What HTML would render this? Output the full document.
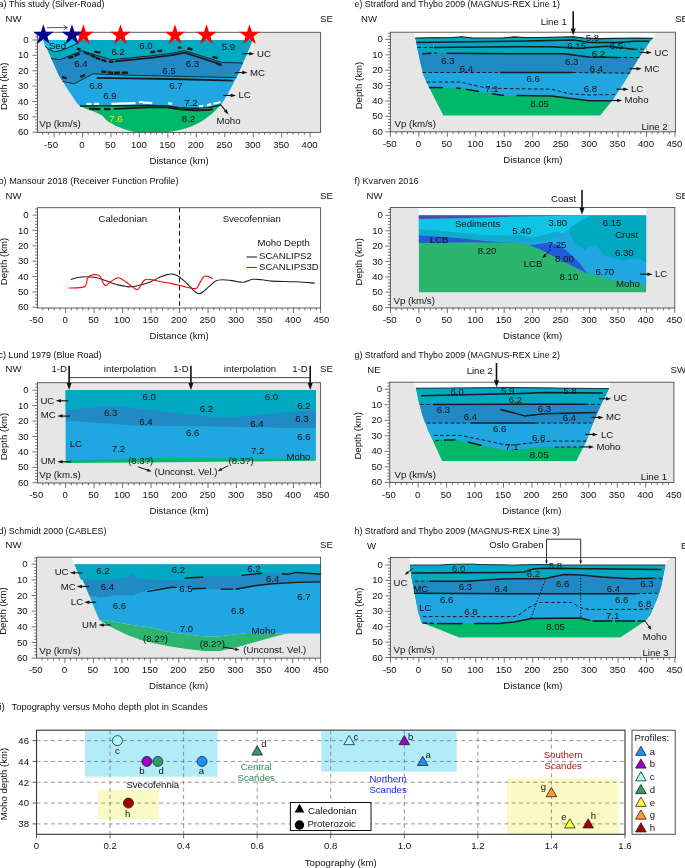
<!DOCTYPE html>
<html lang="en"><head><meta charset="utf-8"><title>Crustal velocity models across the Scandes</title>
<style>
html,body{margin:0;padding:0;background:#fff;}
body{width:685px;height:868px;overflow:hidden;}
svg{display:block;font-family:"Liberation Sans","DejaVu Sans",sans-serif;will-change:transform;}
</style></head><body>
<svg width="685" height="868" viewBox="0 0 685 868">
<rect width="685" height="868" fill="#fff"/>
<rect x="37.5" y="32.3" width="283.1" height="100.1" fill="#e6e6e6"/>
<text x="-1.5" y="7.2" font-size="9.8" fill="#111" textLength="106" lengthAdjust="spacingAndGlyphs">a) This study (Silver-Road)</text>
<text x="13.6" y="22.4" font-size="9.6" text-anchor="middle" fill="#111" >NW</text>
<text x="326.5" y="22.4" font-size="9.6" text-anchor="middle" fill="#111" >SE</text>
<polygon points="40,32.3 251,32.3 252.5,40 43.2,40" fill="#fff" />
<polygon points="43.2,40 47.7,50.2 52.8,61.5 59,75.4 62.8,81.4 65.8,86.5 71.6,95.2 76.6,102.7 79.9,106 100,105.8 150,105.5 167.5,105.8 179.2,107.7 193.8,108.4 208.4,107.7 220.7,105 225.7,97.5 232,86.2 237.5,75 242,65 247,53.7 252.5,40" fill="#20a6e0" />
<polygon points="79.9,106 86.7,109 95.5,112.3 101.8,115.3 108,121.6 115.6,125.8 125.6,129.8 135.7,132.2 166,132.2 172,131.6 182,129.6 192,126.2 202,121.2 212,113.7 220.7,105 208.4,107.7 193.8,108.4 179.2,107.7 167.5,105.8 150,105.5 100,105.8 79.9,106" fill="#00b86a" />
<polygon points="43.2,40 252.5,40 247,53.7 242,65 237.5,75 236.3,77.6 234.5,77.6 172,76.2 130,75.2 93,73.8 74.1,83.9 62.8,81.4 62.8,81.4 59,75.4 52.8,61.5 47.7,50.2 43.2,40" fill="#00a8c2" />
<polygon points="51.2,58.6 60.3,59.6 81.9,50.8 110.8,59.7 150.7,55.9 172,53.2 184.5,50.6 222,62.5 243,63 243,63 242,65 237.5,75 236.3,77.6 234.5,77.6 172,76.2 130,75.2 93,73.8 74.1,83.9 62.8,81.4 59,75.4 52.8,61.5" fill="#2189c4" />
<polygon points="43.2,40 45.1,46.4 50,50 54.5,51.8 60,50.8 66.7,48.4 74.9,44.6 78.4,42.3 80.5,40" fill="#10c4e6" />
<polyline points="45.1,46.4 50,50 54.5,51.8 60,50.8 66.7,48.4 74.9,44.6 78.4,42.3 80.5,40" fill="none" stroke="#1a1a1a" stroke-width="0.9" />
<polyline points="51.2,58.6 60.3,59.6 81.9,50.8 110.8,59.7 150.7,55.9 172,53.2 184.5,50.6 222,62.5 243,63" fill="none" stroke="#1a1a1a" stroke-width="0.9" />
<polyline points="62.8,81.4 74.1,83.9 93,73.8 130,75.2 172,76.2 234.5,77.6 236.3,77.6" fill="none" stroke="#1a1a1a" stroke-width="0.9" />
<polyline points="115,61.4 150.7,57.9 172,55.2 184.5,52.6 220.5,64.2" fill="none" stroke="#1a1a1a" stroke-width="1.7" />
<polyline points="96.7,77.9 130,78.4 172,79 233,80.6" fill="none" stroke="#1a1a1a" stroke-width="1.8" />
<polyline points="76.97,48.56 80.63,49.54" fill="none" stroke="#1a1a1a" stroke-width="2.4" />
<polyline points="94.46,51.61 100.44,52.59" fill="none" stroke="#1a1a1a" stroke-width="2.4" />
<polyline points="68.26,57.91 73.64,56.79" fill="none" stroke="#1a1a1a" stroke-width="2.4" />
<polyline points="74.39,55.91 79.81,53.69" fill="none" stroke="#1a1a1a" stroke-width="2.4" />
<polyline points="83.98,52.33 89.42,54.07" fill="none" stroke="#1a1a1a" stroke-width="2.4" />
<polyline points="90.19,55 95.51,57.1" fill="none" stroke="#1a1a1a" stroke-width="2.4" />
<polyline points="95.89,57.6 100.41,59.4" fill="none" stroke="#1a1a1a" stroke-width="2.4" />
<polyline points="101.48,59.51 106.42,61.29" fill="none" stroke="#1a1a1a" stroke-width="2.4" />
<polyline points="109.05,61.8 113.45,61.8" fill="none" stroke="#1a1a1a" stroke-width="2.4" />
<polyline points="150.55,52.26 155.15,51.74" fill="none" stroke="#1a1a1a" stroke-width="2.4" />
<polyline points="157.25,51.14 162.15,50.76" fill="none" stroke="#1a1a1a" stroke-width="2.4" />
<polyline points="177.75,47.6 181.45,47.6" fill="none" stroke="#1a1a1a" stroke-width="2.4" />
<polyline points="187.47,48.25 192.53,49.65" fill="none" stroke="#1a1a1a" stroke-width="2.4" />
<polyline points="212.47,56.87 217.53,58.13" fill="none" stroke="#1a1a1a" stroke-width="2.4" />
<polyline points="216.48,63.42 221.52,65.18" fill="none" stroke="#1a1a1a" stroke-width="2.4" />
<polyline points="101.45,71.46 106.45,71.84" fill="none" stroke="#1a1a1a" stroke-width="2.4" />
<polyline points="107.65,72.36 113.15,72.74" fill="none" stroke="#1a1a1a" stroke-width="2.4" />
<polyline points="114.15,72.7 120.15,72.7" fill="none" stroke="#1a1a1a" stroke-width="2.4" />
<polyline points="121.65,72.7 127.95,72.7" fill="none" stroke="#1a1a1a" stroke-width="2.4" />
<polyline points="62.08,76.92 66.62,78.48" fill="none" stroke="#1a1a1a" stroke-width="2.4" />
<polyline points="80.2,77.04 85,74.76" fill="none" stroke="#1a1a1a" stroke-width="2.4" />
<polyline points="79.9,106 100,105.8 150,105.5 167.5,105.8 179.2,107.7 193.8,108.4 208.4,107.7 220.7,105" fill="none" stroke="#1a1a1a" stroke-width="1.3" />
<polyline points="114,108.9 150,107.4 167.5,107.4 179.2,109.3 193.8,110.3 208.4,110 212.8,109.3" fill="none" stroke="#1a1a1a" stroke-width="1.9" />
<polyline points="89,108.6 100.5,109.1" fill="none" stroke="#1a1a1a" stroke-width="2.3" />
<polyline points="104,109.1 110.5,109.1" fill="none" stroke="#1a1a1a" stroke-width="2.3" />
<polyline points="86.5,103.9 91.5,103.9" fill="none" stroke="#fff" stroke-width="2.2" />
<polyline points="94,103.9 99,103.9" fill="none" stroke="#fff" stroke-width="2.2" />
<polyline points="111.5,103.9 135.5,103.2" fill="none" stroke="#fff" stroke-width="2.2" />
<polyline points="139,102.2 143,102" fill="none" stroke="#fff" stroke-width="2.2" />
<polyline points="143,102.6 150.5,102.8" fill="none" stroke="#fff" stroke-width="2.2" />
<polyline points="149,103 152.2,103.2" fill="none" stroke="#fff" stroke-width="2.2" />
<polyline points="168.2,103.2 171.9,104" fill="none" stroke="#fff" stroke-width="2.2" />
<polyline points="198.9,106.2 203.3,106.2" fill="none" stroke="#fff" stroke-width="2.2" />
<polyline points="206.9,105.1 211.3,104.3" fill="none" stroke="#fff" stroke-width="2.2" />
<polyline points="213.5,103.7 220.6,102" fill="none" stroke="#fff" stroke-width="2.2" />
<rect x="37.5" y="32.3" width="283.1" height="100.1" fill="none" stroke="#4d4d4d" stroke-width="0.9"/>
<path d="M42.67 132.4v2.4M48.36 132.4v2.4M54.05 132.4v5.0M59.74 132.4v2.4M65.43 132.4v2.4M71.12 132.4v2.4M76.81 132.4v2.4M82.5 132.4v5.0M88.19 132.4v2.4M93.88 132.4v2.4M99.57 132.4v2.4M105.26 132.4v2.4M110.95 132.4v5.0M116.64 132.4v2.4M122.33 132.4v2.4M128.02 132.4v2.4M133.71 132.4v2.4M139.4 132.4v5.0M145.09 132.4v2.4M150.78 132.4v2.4M156.47 132.4v2.4M162.16 132.4v2.4M167.85 132.4v5.0M173.54 132.4v2.4M179.23 132.4v2.4M184.92 132.4v2.4M190.61 132.4v2.4M196.3 132.4v5.0M201.99 132.4v2.4M207.68 132.4v2.4M213.37 132.4v2.4M219.06 132.4v2.4M224.75 132.4v5.0M230.44 132.4v2.4M236.13 132.4v2.4M241.82 132.4v2.4M247.51 132.4v2.4M253.2 132.4v5.0M258.89 132.4v2.4M264.58 132.4v2.4M270.27 132.4v2.4M275.96 132.4v2.4M281.65 132.4v5.0M287.34 132.4v2.4M293.03 132.4v2.4M298.72 132.4v2.4M304.41 132.4v2.4M310.1 132.4v5.0M37.5 33.85h-2.4M37.5 36.93h-2.4M37.5 40h-5.0M37.5 43.07h-2.4M37.5 46.15h-2.4M37.5 49.22h-2.4M37.5 52.3h-2.4M37.5 55.37h-5.0M37.5 58.44h-2.4M37.5 61.52h-2.4M37.5 64.59h-2.4M37.5 67.67h-2.4M37.5 70.74h-5.0M37.5 73.81h-2.4M37.5 76.89h-2.4M37.5 79.96h-2.4M37.5 83.04h-2.4M37.5 86.11h-5.0M37.5 89.18h-2.4M37.5 92.26h-2.4M37.5 95.33h-2.4M37.5 98.41h-2.4M37.5 101.48h-5.0M37.5 104.55h-2.4M37.5 107.63h-2.4M37.5 110.7h-2.4M37.5 113.78h-2.4M37.5 116.85h-5.0M37.5 119.92h-2.4M37.5 123h-2.4M37.5 126.07h-2.4M37.5 129.15h-2.4M37.5 132.22h-5.0" stroke="#4d4d4d" stroke-width="0.8" fill="none"/>
<text x="51.05" y="147.6" font-size="9.6" text-anchor="middle" fill="#111" >-50</text>
<text x="82" y="147.6" font-size="9.6" text-anchor="middle" fill="#111" >0</text>
<text x="110.45" y="147.6" font-size="9.6" text-anchor="middle" fill="#111" >50</text>
<text x="138.9" y="147.6" font-size="9.6" text-anchor="middle" fill="#111" >100</text>
<text x="167.35" y="147.6" font-size="9.6" text-anchor="middle" fill="#111" >150</text>
<text x="195.8" y="147.6" font-size="9.6" text-anchor="middle" fill="#111" >200</text>
<text x="224.25" y="147.6" font-size="9.6" text-anchor="middle" fill="#111" >250</text>
<text x="252.7" y="147.6" font-size="9.6" text-anchor="middle" fill="#111" >300</text>
<text x="281.15" y="147.6" font-size="9.6" text-anchor="middle" fill="#111" >350</text>
<text x="309.6" y="147.6" font-size="9.6" text-anchor="middle" fill="#111" >400</text>
<text x="28.6" y="43" font-size="9.6" text-anchor="end" fill="#111" >0</text>
<text x="28.6" y="58" font-size="9.6" text-anchor="end" fill="#111" >10</text>
<text x="28.6" y="74" font-size="9.6" text-anchor="end" fill="#111" >20</text>
<text x="28.6" y="89" font-size="9.6" text-anchor="end" fill="#111" >30</text>
<text x="28.6" y="105" font-size="9.6" text-anchor="end" fill="#111" >40</text>
<text x="28.6" y="120" font-size="9.6" text-anchor="end" fill="#111" >50</text>
<text x="28.6" y="135" font-size="9.6" text-anchor="end" fill="#111" >60</text>
<text x="179.05" y="163.7" font-size="9.6" text-anchor="middle" fill="#111" >Distance (km)</text>
<text transform="translate(7.3 86.2) rotate(-90)" font-size="9.6" text-anchor="middle" fill="#111">Depth (km)</text>
<text x="39.3" y="126.9" font-size="9.7" text-anchor="start" fill="#111" >Vp (km/s)</text>
<text x="57.5" y="49" font-size="9.6" text-anchor="middle" fill="#111" >Sed</text>
<text x="118.2" y="55" font-size="9.6" text-anchor="middle" fill="#111" >6.2</text>
<text x="146" y="49" font-size="9.6" text-anchor="middle" fill="#111" >6.0</text>
<text x="228.5" y="50" font-size="9.6" text-anchor="middle" fill="#111" >5.9</text>
<text x="81" y="67" font-size="9.6" text-anchor="middle" fill="#111" >6.4</text>
<text x="192.5" y="67" font-size="9.6" text-anchor="middle" fill="#111" >6.3</text>
<text x="169" y="74" font-size="9.6" text-anchor="middle" fill="#111" >6.5</text>
<text x="96" y="89" font-size="9.6" text-anchor="middle" fill="#111" >6.8</text>
<text x="176" y="89" font-size="9.6" text-anchor="middle" fill="#111" >6.7</text>
<text x="110" y="99" font-size="9.6" text-anchor="middle" fill="#111" >6.9</text>
<text x="191" y="106" font-size="9.6" text-anchor="middle" fill="#111" >7.2</text>
<text x="188.5" y="122" font-size="9.6" text-anchor="middle" fill="#111" >8.2</text>
<text x="116" y="122" font-size="9.6" text-anchor="middle" fill="#e8f000" >7.6</text>
<line x1="242.5" y1="53.7" x2="250.3" y2="53.7" stroke="#111" stroke-width="1.15"/>
<polygon points="254.5,53.7 249.3,55.45 249.3,51.95" fill="#111" />
<text x="257" y="57" font-size="9.6" text-anchor="start" fill="#111" >UC</text>
<line x1="235" y1="72.6" x2="243.3" y2="72.6" stroke="#111" stroke-width="1.15"/>
<polygon points="247.5,72.6 242.3,74.35 242.3,70.85" fill="#111" />
<text x="250" y="76" font-size="9.6" text-anchor="start" fill="#111" >MC</text>
<line x1="223.5" y1="95.4" x2="231.8" y2="95.4" stroke="#111" stroke-width="1.15"/>
<polygon points="236,95.4 230.8,97.15 230.8,93.65" fill="#111" />
<text x="238.5" y="98" font-size="9.6" text-anchor="start" fill="#111" >LC</text>
<line x1="220.5" y1="104.5" x2="225.88" y2="111.22" stroke="#111" stroke-width="1.15"/>
<polygon points="228.5,114.5 223.89,111.53 226.62,109.35" fill="#111" />
<text x="228.5" y="124" font-size="9.6" text-anchor="middle" fill="#111" >Moho</text>
<polygon points="83.4,24.3 85.85,31.83 93.77,31.83 87.36,36.49 89.81,44.02 83.4,39.36 76.99,44.02 79.44,36.49 73.03,31.83 80.95,31.83" fill="#ff0000" />
<polygon points="120.5,24.3 122.95,31.83 130.87,31.83 124.46,36.49 126.91,44.02 120.5,39.36 114.09,44.02 116.54,36.49 110.13,31.83 118.05,31.83" fill="#ff0000" />
<polygon points="175,24.3 177.45,31.83 185.37,31.83 178.96,36.49 181.41,44.02 175,39.36 168.59,44.02 171.04,36.49 164.63,31.83 172.55,31.83" fill="#ff0000" />
<polygon points="206.5,24.3 208.95,31.83 216.87,31.83 210.46,36.49 212.91,44.02 206.5,39.36 200.09,44.02 202.54,36.49 196.13,31.83 204.05,31.83" fill="#ff0000" />
<polygon points="249.5,24.3 251.95,31.83 259.87,31.83 253.46,36.49 255.91,44.02 249.5,39.36 243.09,44.02 245.54,36.49 239.13,31.83 247.05,31.83" fill="#ff0000" />
<polygon points="43.4,24.3 45.85,31.83 53.77,31.83 47.36,36.49 49.81,44.02 43.4,39.36 36.99,44.02 39.44,36.49 33.03,31.83 40.95,31.83" fill="#00008b" />
<polygon points="72,24.3 74.45,31.83 82.37,31.83 75.96,36.49 78.41,44.02 72,39.36 65.59,44.02 68.04,36.49 61.63,31.83 69.55,31.83" fill="#00008b" />
<path d="M47 27.6H67.0M63.6 25.4L67.3 27.6L63.6 29.8" fill="none" stroke="#111" stroke-width="0.7"/>
<rect x="37.5" y="207.7" width="283.1" height="100.3" fill="#ffffff"/>
<text x="-1.5" y="184" font-size="9.8" fill="#111" textLength="180" lengthAdjust="spacingAndGlyphs">b) Mansour 2018 (Receiver Function Profile)</text>
<text x="13.6" y="199.3" font-size="9.6" text-anchor="middle" fill="#111" >NW</text>
<text x="326.5" y="199.3" font-size="9.6" text-anchor="middle" fill="#111" >SE</text>
<polyline points="179.5,207.7 179.5,308" fill="none" stroke="#111" stroke-width="1.0" stroke-dasharray="4.6 3.2" />
<path d="M71.1 279.5C72.23 279.17 75.52 277.95 77.9 277.5C80.28 277.05 82.47 276.8 85.4 276.8C88.33 276.8 92.15 276.88 95.5 277.5C98.85 278.12 102.15 279.37 105.5 280.5C108.85 281.63 112.25 283.33 115.6 284.3C118.95 285.27 123.1 285.88 125.6 286.3C128.1 286.72 128.08 287.02 130.6 286.8C133.12 286.58 137.35 285.83 140.7 285C144.05 284.17 147.35 283.17 150.7 281.8C154.05 280.43 158.08 278 160.8 276.8C163.52 275.6 165.13 275.07 167 274.6C168.87 274.13 170.33 273.83 172 274C173.67 274.17 174.92 274.42 177 275.6C179.08 276.78 182.22 279.15 184.5 281.1C186.78 283.05 188.83 285.43 190.7 287.3C192.57 289.17 194.23 291.25 195.7 292.3C197.17 293.35 198.25 293.68 199.5 293.6C200.75 293.52 201.53 293.05 203.2 291.8C204.87 290.55 207.42 287.88 209.5 286.1C211.58 284.32 213.62 282.15 215.7 281.1C217.78 280.05 219.28 279.88 222 279.8C224.72 279.72 228.67 280.18 232 280.6C235.33 281.02 239.5 282.22 242 282.3C244.5 282.38 245.13 281.6 247 281.1C248.87 280.6 250.7 279.52 253.2 279.3C255.7 279.08 258.87 279.5 262 279.8C265.13 280.1 266.17 280.77 272 281.1C277.83 281.43 289.95 281.47 297 281.8C304.05 282.13 311.42 282.88 314.3 283.1" fill="none" stroke="#222" stroke-width="1.1" stroke-linecap="round"/>
<path d="M69.1 288C70.98 287.93 77.75 287.9 80.4 287.6C83.05 287.3 83.97 286.97 85 286.2C86.03 285.43 86.2 284.28 86.6 283C87 281.72 86.75 279.75 87.4 278.5C88.05 277.25 88.95 276.13 90.5 275.5C92.05 274.87 95.08 274.57 96.7 274.7C98.32 274.83 99.27 275.25 100.2 276.3C101.13 277.35 101.58 279.55 102.3 281C103.02 282.45 103.8 284.28 104.5 285C105.2 285.72 105.5 285.83 106.5 285.3C107.5 284.77 108.78 283.02 110.5 281.8C112.22 280.58 115.12 278.55 116.8 278C118.48 277.45 119.13 277.87 120.6 278.5C122.07 279.13 123.93 280.63 125.6 281.8C127.27 282.97 128.92 284.25 130.6 285.5C132.28 286.75 134.52 288.62 135.7 289.3C136.88 289.98 136.95 290.07 137.7 289.6C138.45 289.13 139.23 287.93 140.2 286.5C141.17 285.07 142.33 282.2 143.5 281C144.67 279.8 145.57 279.47 147.2 279.3C148.83 279.13 151.03 279.58 153.3 280C155.57 280.42 157.68 281.2 160.8 281.8C163.92 282.4 168.05 282.8 172 283.6C175.95 284.4 180.75 285.77 184.5 286.6C188.25 287.43 192.42 288.4 194.5 288.6C196.58 288.8 196.17 288.63 197 287.8C197.83 286.97 198.47 285.35 199.5 283.6C200.53 281.85 201.95 278.55 203.2 277.3C204.45 276.05 205.47 275.88 207 276.1C208.53 276.32 211.5 278.18 212.4 278.6" fill="none" stroke="#ff0000" stroke-width="1.1" stroke-linecap="round"/>
<rect x="37.5" y="207.7" width="283.1" height="100.3" fill="none" stroke="#4d4d4d" stroke-width="0.9"/>
<path d="M320.6 308v5.0M42.81 308v2.4M48.51 308v2.4M54.21 308v2.4M59.9 308v2.4M65.6 308v5.0M71.3 308v2.4M76.99 308v2.4M82.69 308v2.4M88.39 308v2.4M94.08 308v5.0M99.78 308v2.4M105.48 308v2.4M111.18 308v2.4M116.87 308v2.4M122.57 308v5.0M128.27 308v2.4M133.96 308v2.4M139.66 308v2.4M145.36 308v2.4M151.06 308v5.0M156.75 308v2.4M162.45 308v2.4M168.15 308v2.4M173.84 308v2.4M179.54 308v5.0M185.24 308v2.4M190.93 308v2.4M196.63 308v2.4M202.33 308v2.4M208.02 308v5.0M213.72 308v2.4M219.42 308v2.4M225.12 308v2.4M230.81 308v2.4M236.51 308v5.0M242.21 308v2.4M247.9 308v2.4M253.6 308v2.4M259.3 308v2.4M265 308v5.0M270.69 308v2.4M276.39 308v2.4M282.09 308v2.4M287.78 308v2.4M293.48 308v5.0M299.18 308v2.4M304.87 308v2.4M310.57 308v2.4M316.27 308v2.4M37.5 208.96h-2.4M37.5 212.03h-2.4M37.5 215.1h-5.0M37.5 218.17h-2.4M37.5 221.24h-2.4M37.5 224.32h-2.4M37.5 227.39h-2.4M37.5 230.46h-5.0M37.5 233.53h-2.4M37.5 236.6h-2.4M37.5 239.68h-2.4M37.5 242.75h-2.4M37.5 245.82h-5.0M37.5 248.89h-2.4M37.5 251.96h-2.4M37.5 255.04h-2.4M37.5 258.11h-2.4M37.5 261.18h-5.0M37.5 264.25h-2.4M37.5 267.32h-2.4M37.5 270.4h-2.4M37.5 273.47h-2.4M37.5 276.54h-5.0M37.5 279.61h-2.4M37.5 282.68h-2.4M37.5 285.76h-2.4M37.5 288.83h-2.4M37.5 291.9h-5.0M37.5 294.97h-2.4M37.5 298.04h-2.4M37.5 301.12h-2.4M37.5 304.19h-2.4M37.5 307.26h-5.0" stroke="#4d4d4d" stroke-width="0.8" fill="none"/>
<text x="36.31" y="323.2" font-size="9.6" text-anchor="middle" fill="#111" >-50</text>
<text x="65.1" y="323.2" font-size="9.6" text-anchor="middle" fill="#111" >0</text>
<text x="93.58" y="323.2" font-size="9.6" text-anchor="middle" fill="#111" >50</text>
<text x="122.07" y="323.2" font-size="9.6" text-anchor="middle" fill="#111" >100</text>
<text x="150.56" y="323.2" font-size="9.6" text-anchor="middle" fill="#111" >150</text>
<text x="179.04" y="323.2" font-size="9.6" text-anchor="middle" fill="#111" >200</text>
<text x="207.52" y="323.2" font-size="9.6" text-anchor="middle" fill="#111" >250</text>
<text x="236.01" y="323.2" font-size="9.6" text-anchor="middle" fill="#111" >300</text>
<text x="264.5" y="323.2" font-size="9.6" text-anchor="middle" fill="#111" >350</text>
<text x="292.98" y="323.2" font-size="9.6" text-anchor="middle" fill="#111" >400</text>
<text x="321.47" y="323.2" font-size="9.6" text-anchor="middle" fill="#111" >450</text>
<text x="28.6" y="218" font-size="9.6" text-anchor="end" fill="#111" >0</text>
<text x="28.6" y="234" font-size="9.6" text-anchor="end" fill="#111" >10</text>
<text x="28.6" y="249" font-size="9.6" text-anchor="end" fill="#111" >20</text>
<text x="28.6" y="264" font-size="9.6" text-anchor="end" fill="#111" >30</text>
<text x="28.6" y="280" font-size="9.6" text-anchor="end" fill="#111" >40</text>
<text x="28.6" y="295" font-size="9.6" text-anchor="end" fill="#111" >50</text>
<text x="28.6" y="310" font-size="9.6" text-anchor="end" fill="#111" >60</text>
<text x="179.05" y="339.3" font-size="9.6" text-anchor="middle" fill="#111" >Distance (km)</text>
<text transform="translate(7.3 261.55) rotate(-90)" font-size="9.6" text-anchor="middle" fill="#111">Depth (km)</text>
<text x="122.8" y="222" font-size="9.6" text-anchor="middle" fill="#111" >Caledonian</text>
<text x="251.7" y="222" font-size="9.6" text-anchor="middle" fill="#111" >Svecofennian</text>
<text x="283.6" y="246" font-size="9.6" text-anchor="middle" fill="#111" >Moho Depth</text>
<polyline points="246.5,257 257,257" fill="none" stroke="#222" stroke-width="1.1" />
<text x="259" y="259" font-size="9.6" text-anchor="start" fill="#111" >SCANLIPS2</text>
<polyline points="246.5,267.5 257,267.5" fill="none" stroke="#ff0000" stroke-width="1.1" />
<text x="259" y="270" font-size="9.6" text-anchor="start" fill="#111" >SCANLIPS3D</text>
<rect x="37.5" y="382.7" width="283.1" height="100.3" fill="#e6e6e6"/>
<text x="-1.5" y="357.6" font-size="9.8" fill="#111" textLength="103" lengthAdjust="spacingAndGlyphs">c) Lund 1979 (Blue Road)</text>
<text x="13.6" y="372.2" font-size="9.6" text-anchor="middle" fill="#111" >NW</text>
<text x="326.5" y="372.2" font-size="9.6" text-anchor="middle" fill="#111" >SE</text>
<polygon points="65.8,390.2 315.7,390.2 315.7,460.7 172,462.3 65.8,463.1" fill="#00b86a" />
<polygon points="65.8,390.2 315.7,390.2 315.7,459.2 247,458.7 172,458 100.5,459.8 65.8,460.6" fill="#20a6e0" />
<polygon points="65.8,390.2 315.7,390.2 315.7,427.8 280.7,427.7 233.4,426.7 190,425.9 138.8,425.8 107.3,423.6 65.8,420.8" fill="#2189c4" />
<polygon points="65.8,390.2 315.7,390.2 315.7,410.6 280.7,412.7 255,415.5 233.4,417.5 215,417.3 190,414.7 138.8,408.8 120.6,406.8 107.3,406.2 65.8,409.9" fill="#00a8c2" />
<rect x="37.5" y="382.7" width="283.1" height="100.3" fill="none" stroke="#4d4d4d" stroke-width="0.9"/>
<path d="M320.6 483v5.0M42.81 483v2.4M48.51 483v2.4M54.21 483v2.4M59.9 483v2.4M65.6 483v5.0M71.3 483v2.4M76.99 483v2.4M82.69 483v2.4M88.39 483v2.4M94.08 483v5.0M99.78 483v2.4M105.48 483v2.4M111.18 483v2.4M116.87 483v2.4M122.57 483v5.0M128.27 483v2.4M133.96 483v2.4M139.66 483v2.4M145.36 483v2.4M151.06 483v5.0M156.75 483v2.4M162.45 483v2.4M168.15 483v2.4M173.84 483v2.4M179.54 483v5.0M185.24 483v2.4M190.93 483v2.4M196.63 483v2.4M202.33 483v2.4M208.02 483v5.0M213.72 483v2.4M219.42 483v2.4M225.12 483v2.4M230.81 483v2.4M236.51 483v5.0M242.21 483v2.4M247.9 483v2.4M253.6 483v2.4M259.3 483v2.4M265 483v5.0M270.69 483v2.4M276.39 483v2.4M282.09 483v2.4M287.78 483v2.4M293.48 483v5.0M299.18 483v2.4M304.87 483v2.4M310.57 483v2.4M316.27 483v2.4M37.5 384.03h-2.4M37.5 387.12h-2.4M37.5 390.2h-5.0M37.5 393.28h-2.4M37.5 396.37h-2.4M37.5 399.45h-2.4M37.5 402.54h-2.4M37.5 405.62h-5.0M37.5 408.7h-2.4M37.5 411.79h-2.4M37.5 414.87h-2.4M37.5 417.96h-2.4M37.5 421.04h-5.0M37.5 424.12h-2.4M37.5 427.21h-2.4M37.5 430.29h-2.4M37.5 433.38h-2.4M37.5 436.46h-5.0M37.5 439.54h-2.4M37.5 442.63h-2.4M37.5 445.71h-2.4M37.5 448.8h-2.4M37.5 451.88h-5.0M37.5 454.96h-2.4M37.5 458.05h-2.4M37.5 461.13h-2.4M37.5 464.22h-2.4M37.5 467.3h-5.0M37.5 470.38h-2.4M37.5 473.47h-2.4M37.5 476.55h-2.4M37.5 479.64h-2.4M37.5 482.72h-5.0" stroke="#4d4d4d" stroke-width="0.8" fill="none"/>
<text x="36.31" y="498.2" font-size="9.6" text-anchor="middle" fill="#111" >-50</text>
<text x="65.1" y="498.2" font-size="9.6" text-anchor="middle" fill="#111" >0</text>
<text x="93.58" y="498.2" font-size="9.6" text-anchor="middle" fill="#111" >50</text>
<text x="122.07" y="498.2" font-size="9.6" text-anchor="middle" fill="#111" >100</text>
<text x="150.56" y="498.2" font-size="9.6" text-anchor="middle" fill="#111" >150</text>
<text x="179.04" y="498.2" font-size="9.6" text-anchor="middle" fill="#111" >200</text>
<text x="207.52" y="498.2" font-size="9.6" text-anchor="middle" fill="#111" >250</text>
<text x="236.01" y="498.2" font-size="9.6" text-anchor="middle" fill="#111" >300</text>
<text x="264.5" y="498.2" font-size="9.6" text-anchor="middle" fill="#111" >350</text>
<text x="292.98" y="498.2" font-size="9.6" text-anchor="middle" fill="#111" >400</text>
<text x="321.47" y="498.2" font-size="9.6" text-anchor="middle" fill="#111" >450</text>
<text x="28.6" y="393" font-size="9.6" text-anchor="end" fill="#111" >0</text>
<text x="28.6" y="409" font-size="9.6" text-anchor="end" fill="#111" >10</text>
<text x="28.6" y="424" font-size="9.6" text-anchor="end" fill="#111" >20</text>
<text x="28.6" y="440" font-size="9.6" text-anchor="end" fill="#111" >30</text>
<text x="28.6" y="455" font-size="9.6" text-anchor="end" fill="#111" >40</text>
<text x="28.6" y="470" font-size="9.6" text-anchor="end" fill="#111" >50</text>
<text x="28.6" y="486" font-size="9.6" text-anchor="end" fill="#111" >60</text>
<text x="179.05" y="514.3" font-size="9.6" text-anchor="middle" fill="#111" >Distance (km)</text>
<text transform="translate(7.3 436.6) rotate(-90)" font-size="9.6" text-anchor="middle" fill="#111">Depth (km)</text>
<text x="39.3" y="477.9" font-size="9.7" text-anchor="start" fill="#111" >Vp (km.s)</text>
<polyline points="69.1,377.6 310.2,377.6" fill="none" stroke="#1a1a1a" stroke-width="0.8" />
<line x1="69.1" y1="365.8" x2="69.1" y2="383.9" stroke="#111" stroke-width="1.6"/>
<polygon points="69.1,389.9 66.6,382.9 71.6,382.9" fill="#111" />
<line x1="190.9" y1="365.8" x2="190.9" y2="383.9" stroke="#111" stroke-width="1.6"/>
<polygon points="190.9,389.9 188.4,382.9 193.4,382.9" fill="#111" />
<line x1="310.2" y1="365.8" x2="310.2" y2="383.9" stroke="#111" stroke-width="1.6"/>
<polygon points="310.2,389.9 307.7,382.9 312.7,382.9" fill="#111" />
<text x="59.2" y="372" font-size="9.6" text-anchor="middle" fill="#111" >1-D</text>
<text x="130" y="372" font-size="9.6" text-anchor="middle" fill="#111" >interpolation</text>
<text x="181" y="372" font-size="9.6" text-anchor="middle" fill="#111" >1-D</text>
<text x="250" y="372" font-size="9.6" text-anchor="middle" fill="#111" >interpolation</text>
<text x="300" y="372" font-size="9.6" text-anchor="middle" fill="#111" >1-D</text>
<text x="149.2" y="400" font-size="9.6" text-anchor="middle" fill="#111" >6.0</text>
<text x="110.6" y="416" font-size="9.6" text-anchor="middle" fill="#111" >6.3</text>
<text x="145.8" y="425" font-size="9.6" text-anchor="middle" fill="#111" >6.4</text>
<text x="118.5" y="452" font-size="9.6" text-anchor="middle" fill="#111" >7.2</text>
<text x="140.7" y="464" font-size="9.6" text-anchor="middle" fill="#111" >(8.3?)</text>
<text x="206.4" y="412" font-size="9.6" text-anchor="middle" fill="#111" >6.2</text>
<text x="271.4" y="400" font-size="9.6" text-anchor="middle" fill="#111" >6.0</text>
<text x="303.9" y="409" font-size="9.6" text-anchor="middle" fill="#111" >6.2</text>
<text x="301.9" y="422" font-size="9.6" text-anchor="middle" fill="#111" >6.3</text>
<text x="256.9" y="427" font-size="9.6" text-anchor="middle" fill="#111" >6.4</text>
<text x="192.6" y="436" font-size="9.6" text-anchor="middle" fill="#111" >6.6</text>
<text x="303.9" y="440" font-size="9.6" text-anchor="middle" fill="#111" >6.6</text>
<text x="257.6" y="454" font-size="9.6" text-anchor="middle" fill="#111" >7.2</text>
<text x="298.4" y="460" font-size="9.6" text-anchor="middle" fill="#111" >Moho</text>
<text x="241.1" y="464" font-size="9.6" text-anchor="middle" fill="#111" >(8.3?)</text>
<text x="75.8" y="447" font-size="9.6" text-anchor="middle" fill="#111" >LC</text>
<text x="186" y="475" font-size="9.6" text-anchor="middle" fill="#111" >(Unconst. Vel.)</text>
<text x="54.3" y="404" font-size="9.6" text-anchor="end" fill="#111" >UC</text>
<line x1="68.3" y1="400.8" x2="60" y2="400.8" stroke="#111" stroke-width="1.15"/>
<polygon points="55.8,400.8 61,399.05 61,402.55" fill="#111" />
<text x="55.6" y="418" font-size="9.6" text-anchor="end" fill="#111" >MC</text>
<line x1="69.8" y1="416.1" x2="61.5" y2="416.1" stroke="#111" stroke-width="1.15"/>
<polygon points="57.3,416.1 62.5,414.35 62.5,417.85" fill="#111" />
<text x="55.6" y="464" font-size="9.6" text-anchor="end" fill="#111" >UM</text>
<line x1="71.1" y1="461.8" x2="61.5" y2="461.8" stroke="#111" stroke-width="1.15"/>
<polygon points="57.3,461.8 62.5,460.05 62.5,463.55" fill="#111" />
<line x1="138.2" y1="466.9" x2="148.28" y2="470.31" stroke="#111" stroke-width="1.0"/>
<polygon points="151.5,471.4 146.82,471.51 147.84,468.47" fill="#111" />
<line x1="228.2" y1="465.7" x2="220.71" y2="469.62" stroke="#111" stroke-width="1.0"/>
<polygon points="217.7,471.2 220.86,467.74 222.34,470.58" fill="#111" />
<rect x="36.6" y="557.2" width="284" height="100.9" fill="#e6e6e6"/>
<text x="-1.5" y="533.6" font-size="9.8" fill="#111" textLength="108" lengthAdjust="spacingAndGlyphs">d) Schmidt 2000 (CABLES)</text>
<text x="13.6" y="548" font-size="9.6" text-anchor="middle" fill="#111" >NW</text>
<text x="326.5" y="548" font-size="9.6" text-anchor="middle" fill="#111" >SE</text>
<polygon points="71.6,557.2 320.6,557.2 320.6,564.4 74.6,564.4" fill="#fff" />
<polygon points="99.7,620.4 110.5,626.7 125.6,634.2 140.7,640 155.8,643.8 172,646.8 187,649 204.5,651 219.5,651 237,647.3 254.5,642.3 272,637.3 282,634.8 288.2,633.6 272,633.6 247,633.1 222,636.1 212,636.8 199.5,636.1 187,634.3 172,632.5 150.7,627.4 135.7,625.4 120.6,622.9 108,620.4 99.7,620.4" fill="#2cb56f" />
<polygon points="74.6,564.4 82.9,580.3 89.2,595.3 94.2,607.9 99.7,620.4 108,620.4 120.6,622.9 135.7,625.4 150.7,627.4 172,632.5 187,634.3 199.5,636.1 212,636.8 222,636.1 247,633.1 272,633.6 288.2,633.6 320.6,633.6 320.6,564.4" fill="#20a6e0" />
<polygon points="74.6,564.4 82.9,580.3 89.2,595.3 100.5,597.8 115.6,595.3 133.2,595.8 140.7,592.3 150.7,589 172,587.3 187,588.2 199.5,589.2 222,589.2 237,589.2 254.5,585.7 272,583.7 297,582.4 320.6,581.9 320.6,564.4" fill="#2189c4" />
<polygon points="74.6,564.4 80.9,579.8 110.5,579.8 125.6,577.8 131.9,574 136.9,579 155.8,579.8 172,580.4 187,580.4 204.5,576.2 242,576.2 252,573.7 282,573 297,572 320.6,574.2 320.6,564.4" fill="#00a8c2" />
<polyline points="147,591.6 172,587.3 177,587.4" fill="none" stroke="#1a1a1a" stroke-width="1.4" />
<polyline points="192,588.7 205.7,588.2" fill="none" stroke="#1a1a1a" stroke-width="1.4" />
<polyline points="220.7,589.2 233.2,589.2" fill="none" stroke="#1a1a1a" stroke-width="1.4" />
<polyline points="235.7,589.2 254.5,585.7 272,583.7 297,582.4 320.6,581.9" fill="none" stroke="#1a1a1a" stroke-width="1.4" />
<polyline points="184.5,578.2 203.2,577" fill="none" stroke="#1a1a1a" stroke-width="1.4" />
<polyline points="241.5,575.4 262,573.2" fill="none" stroke="#1a1a1a" stroke-width="1.4" />
<polyline points="282,573.7 288.2,574.4 295.7,572.4 321.2,574.2" fill="none" stroke="#1a1a1a" stroke-width="1.4" />
<rect x="36.6" y="557.2" width="284" height="100.9" fill="none" stroke="#4d4d4d" stroke-width="0.9"/>
<path d="M320.6 658.1v5.0M42.12 658.1v2.4M47.82 658.1v2.4M53.51 658.1v2.4M59.21 658.1v2.4M64.9 658.1v5.0M70.59 658.1v2.4M76.29 658.1v2.4M81.99 658.1v2.4M87.68 658.1v2.4M93.38 658.1v5.0M99.07 658.1v2.4M104.77 658.1v2.4M110.46 658.1v2.4M116.16 658.1v2.4M121.85 658.1v5.0M127.55 658.1v2.4M133.24 658.1v2.4M138.94 658.1v2.4M144.63 658.1v2.4M150.32 658.1v5.0M156.02 658.1v2.4M161.72 658.1v2.4M167.41 658.1v2.4M173.11 658.1v2.4M178.8 658.1v5.0M184.5 658.1v2.4M190.19 658.1v2.4M195.89 658.1v2.4M201.58 658.1v2.4M207.28 658.1v5.0M212.97 658.1v2.4M218.67 658.1v2.4M224.36 658.1v2.4M230.06 658.1v2.4M235.75 658.1v5.0M241.45 658.1v2.4M247.14 658.1v2.4M252.84 658.1v2.4M258.53 658.1v2.4M264.23 658.1v5.0M269.92 658.1v2.4M275.62 658.1v2.4M281.31 658.1v2.4M287 658.1v2.4M292.7 658.1v5.0M298.39 658.1v2.4M304.09 658.1v2.4M309.78 658.1v2.4M315.48 658.1v2.4M36.6 557.94h-2.4M36.6 561.07h-2.4M36.6 564.2h-5.0M36.6 567.33h-2.4M36.6 570.46h-2.4M36.6 573.59h-2.4M36.6 576.72h-2.4M36.6 579.85h-5.0M36.6 582.98h-2.4M36.6 586.11h-2.4M36.6 589.24h-2.4M36.6 592.37h-2.4M36.6 595.5h-5.0M36.6 598.63h-2.4M36.6 601.76h-2.4M36.6 604.89h-2.4M36.6 608.02h-2.4M36.6 611.15h-5.0M36.6 614.28h-2.4M36.6 617.41h-2.4M36.6 620.54h-2.4M36.6 623.67h-2.4M36.6 626.8h-5.0M36.6 629.93h-2.4M36.6 633.06h-2.4M36.6 636.19h-2.4M36.6 639.32h-2.4M36.6 642.45h-5.0M36.6 645.58h-2.4M36.6 648.71h-2.4M36.6 651.84h-2.4M36.6 654.97h-2.4M36.6 658.1h-5.0" stroke="#4d4d4d" stroke-width="0.8" fill="none"/>
<text x="35.63" y="673.3" font-size="9.6" text-anchor="middle" fill="#111" >-50</text>
<text x="64.4" y="673.3" font-size="9.6" text-anchor="middle" fill="#111" >0</text>
<text x="92.88" y="673.3" font-size="9.6" text-anchor="middle" fill="#111" >50</text>
<text x="121.35" y="673.3" font-size="9.6" text-anchor="middle" fill="#111" >100</text>
<text x="149.82" y="673.3" font-size="9.6" text-anchor="middle" fill="#111" >150</text>
<text x="178.3" y="673.3" font-size="9.6" text-anchor="middle" fill="#111" >200</text>
<text x="206.78" y="673.3" font-size="9.6" text-anchor="middle" fill="#111" >250</text>
<text x="235.25" y="673.3" font-size="9.6" text-anchor="middle" fill="#111" >300</text>
<text x="263.73" y="673.3" font-size="9.6" text-anchor="middle" fill="#111" >350</text>
<text x="292.2" y="673.3" font-size="9.6" text-anchor="middle" fill="#111" >400</text>
<text x="320.67" y="673.3" font-size="9.6" text-anchor="middle" fill="#111" >450</text>
<text x="27.7" y="567" font-size="9.6" text-anchor="end" fill="#111" >0</text>
<text x="27.7" y="583" font-size="9.6" text-anchor="end" fill="#111" >10</text>
<text x="27.7" y="599" font-size="9.6" text-anchor="end" fill="#111" >20</text>
<text x="27.7" y="614" font-size="9.6" text-anchor="end" fill="#111" >30</text>
<text x="27.7" y="630" font-size="9.6" text-anchor="end" fill="#111" >40</text>
<text x="27.7" y="646" font-size="9.6" text-anchor="end" fill="#111" >50</text>
<text x="27.7" y="661" font-size="9.6" text-anchor="end" fill="#111" >60</text>
<text x="178.6" y="689.4" font-size="9.6" text-anchor="middle" fill="#111" >Distance (km)</text>
<text transform="translate(6.4 611.15) rotate(-90)" font-size="9.6" text-anchor="middle" fill="#111">Depth (km)</text>
<text x="39.3" y="653.6" font-size="9.7" text-anchor="start" fill="#111" >Vp (km/s)</text>
<text x="103" y="574" font-size="9.6" text-anchor="middle" fill="#111" >6.2</text>
<text x="107.4" y="590" font-size="9.6" text-anchor="middle" fill="#111" >6.4</text>
<text x="119.5" y="609" font-size="9.6" text-anchor="middle" fill="#111" >6.6</text>
<text x="155.5" y="642" font-size="9.6" text-anchor="middle" fill="#111" >(8.2?)</text>
<text x="178.3" y="573" font-size="9.6" text-anchor="middle" fill="#111" >6.2</text>
<text x="253.9" y="572" font-size="9.6" text-anchor="middle" fill="#111" >6.2</text>
<text x="272.6" y="582" font-size="9.6" text-anchor="middle" fill="#111" >6.4</text>
<text x="185.8" y="592" font-size="9.6" text-anchor="middle" fill="#111" >6.5</text>
<text x="303.9" y="600" font-size="9.6" text-anchor="middle" fill="#111" >6.7</text>
<text x="237.6" y="614" font-size="9.6" text-anchor="middle" fill="#111" >6.8</text>
<text x="186.4" y="632" font-size="9.6" text-anchor="middle" fill="#111" >7.0</text>
<text x="263.6" y="634" font-size="9.6" text-anchor="middle" fill="#111" >Moho</text>
<text x="212.3" y="647" font-size="9.6" text-anchor="middle" fill="#111" >(8.2?)</text>
<text x="274.8" y="653" font-size="9.6" text-anchor="middle" fill="#111" >(Unconst. Vel.)</text>
<text x="68.5" y="575" font-size="9.6" text-anchor="end" fill="#111" >UC</text>
<line x1="82.4" y1="573" x2="74" y2="572.8" stroke="#111" stroke-width="1.15"/>
<polygon points="69.8,572.7 75.04,571.07 74.96,574.57" fill="#111" />
<text x="75.6" y="590" font-size="9.6" text-anchor="end" fill="#111" >MC</text>
<line x1="89.2" y1="586.5" x2="80.8" y2="586.5" stroke="#111" stroke-width="1.15"/>
<polygon points="76.6,586.5 81.8,584.75 81.8,588.25" fill="#111" />
<text x="83.1" y="605" font-size="9.6" text-anchor="end" fill="#111" >LC</text>
<line x1="96.2" y1="602.3" x2="88.4" y2="602.3" stroke="#111" stroke-width="1.15"/>
<polygon points="84.2,602.3 89.4,600.55 89.4,604.05" fill="#111" />
<text x="96.9" y="628" font-size="9.6" text-anchor="end" fill="#111" >UM</text>
<line x1="110.5" y1="625" x2="102.7" y2="625" stroke="#111" stroke-width="1.15"/>
<polygon points="98.5,625 103.7,623.25 103.7,626.75" fill="#111" />
<line x1="223.2" y1="647" x2="236.16" y2="649.38" stroke="#111" stroke-width="1.0"/>
<polygon points="239.5,650 234.88,650.78 235.46,647.63" fill="#111" />
<rect x="390.4" y="32.2" width="285" height="99.6" fill="#e6e6e6"/>
<text x="354.5" y="7.2" font-size="9.8" fill="#111" textLength="205.5" lengthAdjust="spacingAndGlyphs">e) Stratford and Thybo 2009 (MAGNUS-REX Line 1)</text>
<text x="369" y="22.4" font-size="9.6" text-anchor="middle" fill="#111" >NW</text>
<text x="688" y="22.4" font-size="9.6" text-anchor="end" fill="#111" >SE</text>
<polygon points="413.7,32.2 415.4,38 417.9,50 420.4,62.5 423.4,75 429.1,87.4 435.9,101.1 443.4,115.4 600.2,115.4 612.7,100 624,82.4 631.5,70 639,57.4 649,42.4 652.7,38.2 656.5,32.2" fill="#fff" />
<polygon points="415.4,38 452.8,37.5 461.6,36.8 472.8,38 502.8,38 514,36.9 524,37.5 539,37.5 574,36.8 584,38 601.5,38.6 634,38 652.7,38.2 649,42.4 639,57.4 631.5,70 624,82.4 612.7,100 600.2,115.4 443.4,115.4 435.9,101.1 429.1,87.4 423.4,75 420.4,62.5 417.9,50 415.4,38" fill="#00b86a" />
<polygon points="415.4,38 452.8,37.5 461.6,36.8 472.8,38 502.8,38 514,36.9 524,37.5 539,37.5 574,36.8 584,38 601.5,38.6 634,38 652.7,38.2 649,42.4 639,57.4 631.5,70 624,82.4 612.7,100 612.2,100.7 589,100.7 551.5,95.7 514,95.4 502.8,95.4 477.8,91.2 457.8,88 429.1,87.4 423.4,75 420.4,62.5 417.9,50" fill="#20a6e0" />
<polygon points="415.4,38 452.8,37.5 461.6,36.8 472.8,38 502.8,38 514,36.9 524,37.5 539,37.5 574,36.8 584,38 601.5,38.6 634,38 652.7,38.2 649,42.4 639,57.4 631.5,70 629.8,73.2 572.7,72.5 497.8,72.5 423.4,72.5 420.4,62.5 417.9,50" fill="#2189c4" />
<polygon points="415.4,38 452.8,37.5 461.6,36.8 472.8,38 502.8,38 514,36.9 524,37.5 539,37.5 574,36.8 584,38 601.5,38.6 634,38 652.7,38.2 649,42.4 639,57.4 617.7,57.5 589,57 564,53.7 514,53.7 446.6,53.2 436.6,53 420.4,53.7 417.9,50" fill="#00a8c2" />
<polyline points="415.4,38 452.8,37.5 461.6,36.8 472.8,38 502.8,38 514,36.9 524,37.5 539,37.5 574,36.8 584,38 601.5,38.6 634,38 652.7,38.2" fill="none" stroke="#1a1a1a" stroke-width="1.1" />
<polyline points="416.6,42.5 514,41.2 574,40 589,42.5 619,42.5 634,41.2 649,41.2" fill="none" stroke="#1a1a1a" stroke-width="1.5" />
<polyline points="417.4,47.5 433,47.5" fill="none" stroke="#1a1a1a" stroke-width="1.0" stroke-dasharray="3.6 2.4" />
<polyline points="434,47.5 514,46.7 551.5,46.7 579,48.2 606.5,46.2 634,49.2" fill="none" stroke="#1a1a1a" stroke-width="1.5" />
<polyline points="634,49.2 646.5,49.2" fill="none" stroke="#1a1a1a" stroke-width="1.0" stroke-dasharray="3.6 2.4" />
<polyline points="422.4,53.7 436.6,53" fill="none" stroke="#1a1a1a" stroke-width="1.5" stroke-dasharray="9 3 3 3" />
<polyline points="446.6,53.2 514,53.7 564,53.7 589,57 617.7,57.5" fill="none" stroke="#1a1a1a" stroke-width="1.5" />
<polyline points="617.7,57.5 641.5,57.5" fill="none" stroke="#1a1a1a" stroke-width="1.0" stroke-dasharray="3.6 2.4" />
<polyline points="422.4,72.5 497.8,72.5" fill="none" stroke="#1a1a1a" stroke-width="1.0" stroke-dasharray="3.6 2.4" />
<polyline points="500,72.5 572.7,72.5" fill="none" stroke="#1a1a1a" stroke-width="1.5" />
<polyline points="572.7,72.5 631.5,73.2" fill="none" stroke="#1a1a1a" stroke-width="1.0" stroke-dasharray="3.6 2.4" />
<polyline points="426.6,82 460.3,82 477.8,86.2 487.8,88 514,88.7 551.5,89.2 569,93.7 589,95 616.5,94.5" fill="none" stroke="#1a1a1a" stroke-width="1.0" stroke-dasharray="3.6 2.4" />
<polyline points="429.1,87.6 443,87.6" fill="none" stroke="#1a1a1a" stroke-width="1.5" />
<polyline points="456,88 461,88.6" fill="none" stroke="#1a1a1a" stroke-width="1.5" />
<polyline points="466,89.3 479,91.6" fill="none" stroke="#1a1a1a" stroke-width="1.5" />
<polyline points="492,93.8 504,95.6" fill="none" stroke="#1a1a1a" stroke-width="1.5" />
<polyline points="516.5,95.5 551.5,95.9 589,100.7 611.5,100.7" fill="none" stroke="#1a1a1a" stroke-width="1.5" />
<rect x="390.4" y="32.2" width="285" height="99.6" fill="none" stroke="#4d4d4d" stroke-width="0.9"/>
<path d="M390.45 131.8v5.0M396.14 131.8v2.4M401.83 131.8v2.4M407.52 131.8v2.4M413.21 131.8v2.4M418.9 131.8v5.0M424.59 131.8v2.4M430.28 131.8v2.4M435.97 131.8v2.4M441.66 131.8v2.4M447.35 131.8v5.0M453.04 131.8v2.4M458.73 131.8v2.4M464.42 131.8v2.4M470.11 131.8v2.4M475.8 131.8v5.0M481.49 131.8v2.4M487.18 131.8v2.4M492.87 131.8v2.4M498.56 131.8v2.4M504.25 131.8v5.0M509.94 131.8v2.4M515.63 131.8v2.4M521.32 131.8v2.4M527.01 131.8v2.4M532.7 131.8v5.0M538.39 131.8v2.4M544.08 131.8v2.4M549.77 131.8v2.4M555.46 131.8v2.4M561.15 131.8v5.0M566.84 131.8v2.4M572.53 131.8v2.4M578.22 131.8v2.4M583.91 131.8v2.4M589.6 131.8v5.0M595.29 131.8v2.4M600.98 131.8v2.4M606.67 131.8v2.4M612.36 131.8v2.4M618.05 131.8v5.0M623.74 131.8v2.4M629.43 131.8v2.4M635.12 131.8v2.4M640.81 131.8v2.4M646.5 131.8v5.0M652.19 131.8v2.4M657.88 131.8v2.4M663.57 131.8v2.4M669.26 131.8v2.4M674.95 131.8v5.0M390.4 33.24h-2.4M390.4 36.32h-2.4M390.4 39.4h-5.0M390.4 42.48h-2.4M390.4 45.56h-2.4M390.4 48.64h-2.4M390.4 51.72h-2.4M390.4 54.8h-5.0M390.4 57.88h-2.4M390.4 60.96h-2.4M390.4 64.04h-2.4M390.4 67.12h-2.4M390.4 70.2h-5.0M390.4 73.28h-2.4M390.4 76.36h-2.4M390.4 79.44h-2.4M390.4 82.52h-2.4M390.4 85.6h-5.0M390.4 88.68h-2.4M390.4 91.76h-2.4M390.4 94.84h-2.4M390.4 97.92h-2.4M390.4 101h-5.0M390.4 104.08h-2.4M390.4 107.16h-2.4M390.4 110.24h-2.4M390.4 113.32h-2.4M390.4 116.4h-5.0M390.4 119.48h-2.4M390.4 122.56h-2.4M390.4 125.64h-2.4M390.4 128.72h-2.4M390.4 131.8h-5.0" stroke="#4d4d4d" stroke-width="0.8" fill="none"/>
<text x="389.65" y="147" font-size="9.6" text-anchor="middle" fill="#111" >-50</text>
<text x="418.4" y="147" font-size="9.6" text-anchor="middle" fill="#111" >0</text>
<text x="446.85" y="147" font-size="9.6" text-anchor="middle" fill="#111" >50</text>
<text x="475.3" y="147" font-size="9.6" text-anchor="middle" fill="#111" >100</text>
<text x="503.75" y="147" font-size="9.6" text-anchor="middle" fill="#111" >150</text>
<text x="532.2" y="147" font-size="9.6" text-anchor="middle" fill="#111" >200</text>
<text x="560.65" y="147" font-size="9.6" text-anchor="middle" fill="#111" >250</text>
<text x="589.1" y="147" font-size="9.6" text-anchor="middle" fill="#111" >300</text>
<text x="617.55" y="147" font-size="9.6" text-anchor="middle" fill="#111" >350</text>
<text x="646" y="147" font-size="9.6" text-anchor="middle" fill="#111" >400</text>
<text x="674.45" y="147" font-size="9.6" text-anchor="middle" fill="#111" >450</text>
<text x="382.8" y="42" font-size="9.6" text-anchor="end" fill="#111" >0</text>
<text x="382.8" y="58" font-size="9.6" text-anchor="end" fill="#111" >10</text>
<text x="382.8" y="73" font-size="9.6" text-anchor="end" fill="#111" >20</text>
<text x="382.8" y="89" font-size="9.6" text-anchor="end" fill="#111" >30</text>
<text x="382.8" y="104" font-size="9.6" text-anchor="end" fill="#111" >40</text>
<text x="382.8" y="119" font-size="9.6" text-anchor="end" fill="#111" >50</text>
<text x="382.8" y="135" font-size="9.6" text-anchor="end" fill="#111" >60</text>
<text x="532.9" y="163.1" font-size="9.6" text-anchor="middle" fill="#111" >Distance (km)</text>
<text transform="translate(362 85.6) rotate(-90)" font-size="9.6" text-anchor="middle" fill="#111">Depth (km)</text>
<text x="394.5" y="126.9" font-size="9.7" text-anchor="start" fill="#111" >Vp (km/s)</text>
<text x="592.5" y="41" font-size="9.6" text-anchor="middle" fill="#111" >5.8</text>
<text x="576.7" y="49" font-size="9.6" text-anchor="middle" fill="#111" >6.15</text>
<text x="616.4" y="49" font-size="9.6" text-anchor="middle" fill="#111" >6.5</text>
<text x="598.3" y="57" font-size="9.6" text-anchor="middle" fill="#111" >6.2</text>
<text x="447.8" y="64" font-size="9.6" text-anchor="middle" fill="#111" >6.3</text>
<text x="571.6" y="65" font-size="9.6" text-anchor="middle" fill="#111" >6.3</text>
<text x="466.3" y="72" font-size="9.6" text-anchor="middle" fill="#111" >6.4</text>
<text x="596.4" y="72" font-size="9.6" text-anchor="middle" fill="#111" >6.4</text>
<text x="533.1" y="82" font-size="9.6" text-anchor="middle" fill="#111" >6.6</text>
<text x="491.8" y="92" font-size="9.6" text-anchor="middle" fill="#111" >7.1</text>
<text x="590.5" y="92" font-size="9.6" text-anchor="middle" fill="#111" >6.8</text>
<text x="539.5" y="107" font-size="9.6" text-anchor="middle" fill="#111" >8.05</text>
<path d="M608.2 43v5.6M607.2 43h2M607.2 48.6h2M624.6 43v5.6M623.6 43h2M623.6 48.6h2" stroke="#555" stroke-width="0.5" fill="none"/>
<line x1="639.7" y1="52.5" x2="647.6" y2="52.5" stroke="#111" stroke-width="1.15"/>
<polygon points="651.8,52.5 646.6,54.25 646.6,50.75" fill="#111" />
<text x="654.5" y="56" font-size="9.6" text-anchor="start" fill="#111" >UC</text>
<line x1="629.7" y1="68.7" x2="637.6" y2="68.7" stroke="#111" stroke-width="1.15"/>
<polygon points="641.8,68.7 636.6,70.45 636.6,66.95" fill="#111" />
<text x="644.5" y="72" font-size="9.6" text-anchor="start" fill="#111" >MC</text>
<line x1="616.5" y1="89.2" x2="624.4" y2="89.2" stroke="#111" stroke-width="1.15"/>
<polygon points="628.6,89.2 623.4,90.95 623.4,87.45" fill="#111" />
<text x="631" y="92" font-size="9.6" text-anchor="start" fill="#111" >LC</text>
<line x1="610.2" y1="100.5" x2="618.1" y2="100.5" stroke="#111" stroke-width="1.15"/>
<polygon points="622.3,100.5 617.1,102.25 617.1,98.75" fill="#111" />
<text x="624.5" y="103" font-size="9.6" text-anchor="start" fill="#111" >Moho</text>
<text x="654.6" y="130" font-size="9.6" text-anchor="middle" fill="#111" >Line 2</text>
<text x="553.7" y="25" font-size="9.6" text-anchor="middle" fill="#111" >Line 1</text>
<line x1="573.2" y1="11.2" x2="573.2" y2="29.6" stroke="#111" stroke-width="1.6"/>
<polygon points="573.2,35.6 570.7,28.6 575.7,28.6" fill="#111" />
<rect x="390.4" y="207.5" width="284.4" height="100.5" fill="#e6e6e6"/>
<text x="354.5" y="184" font-size="9.8" fill="#111" textLength="64" lengthAdjust="spacingAndGlyphs">f) Kvarven 2016</text>
<text x="374.5" y="199.3" font-size="9.6" text-anchor="middle" fill="#111" >NW</text>
<text x="688" y="199.3" font-size="9.6" text-anchor="end" fill="#111" >SE</text>
<polygon points="418.9,207.6 646.1,207.6 646.1,215.4 418.9,215.4" fill="#fff" />
<polygon points="418.9,215.4 646.1,215.4 646.1,292.3 418.9,292.3" fill="#2cb56f" />
<polygon points="418.9,215.4 646.1,215.4 646.15,285.58 636.28,283.69 624.89,281.79 613.51,279.9 602.12,277.05 586.94,273.26 577.45,268.52 567.96,263.78 558.47,259.04 548.98,253.92 539.49,248.99 530,245.39 527.67,244.82 516.28,242.92 466.94,242.35 418.92,242.92" fill="#20a6e0" />
<polygon points="418.92,235.34 447.96,237.23 466.94,238.75 485.92,241.03 501.1,242.16 516.28,242.92 466.94,242.35 418.92,242.92" fill="#2459d8" />
<polygon points="520.08,243.49 527.67,244.82 530,245.39 539.49,248.99 548.98,253.92 558.47,259.04 567.96,263.78 577.45,268.52 586.94,273.26 583.14,267.57 577.45,260.93 571.75,255.25 566.06,250.51 560.37,245.77 552.77,243.87 545.18,242.92 537.59,244.25 530,245.2" fill="#2459d8" />
<polygon points="418.9,215.4 590.73,215.43 579.35,222.06 571.75,226.81 567.96,230.6 567.96,230.6 558.47,236.29 548.98,239.13 539.49,241.03 530,243.49 523.87,240.65 512.49,241.41 495.41,241.03 476.43,239.89 457.45,237.8 438.47,236.29 418.92,235.34" fill="#10aacc" />
<polygon points="418.9,215.4 590.73,215.43 579.35,222.06 571.75,226.81 567.96,230.6 562.26,233.44 556.57,231.55 548.98,233.44 539.49,236.29 530,237.23 523.87,235.34 504.89,235.72 485.92,234.96 466.94,233.44 447.96,231.55 428.98,229.65 418.92,228.7" fill="#10c4e6" />
<polygon points="418.9,215.4 564,215.4 551.5,215.9 514,216.6 467.8,218 418.9,219" fill="#5149ad" />
<polygon points="590.73,215.43 646.15,215.43 646.15,261.88 640.08,259.04 632.49,258.09 624.89,259.99 619.2,259.04 613.51,258.09 605.92,256.19 602.12,252.4 595.48,244.82 592.63,247.66 588.83,245.77 585.04,250.51 580.29,246.33 575.55,243.87 570.8,237.23 568.91,230.6 571.75,226.81 579.35,222.06" fill="#00a8c2" />
<rect x="390.4" y="207.5" width="284.4" height="100.5" fill="none" stroke="#4d4d4d" stroke-width="0.9"/>
<path d="M390.47 308v5.0M396.16 308v2.4M401.84 308v2.4M407.53 308v2.4M413.21 308v2.4M418.9 308v5.0M424.58 308v2.4M430.27 308v2.4M435.95 308v2.4M441.64 308v2.4M447.32 308v5.0M453.01 308v2.4M458.69 308v2.4M464.38 308v2.4M470.06 308v2.4M475.75 308v5.0M481.44 308v2.4M487.12 308v2.4M492.8 308v2.4M498.49 308v2.4M504.17 308v5.0M509.86 308v2.4M515.54 308v2.4M521.23 308v2.4M526.91 308v2.4M532.6 308v5.0M538.28 308v2.4M543.97 308v2.4M549.65 308v2.4M555.34 308v2.4M561.02 308v5.0M566.71 308v2.4M572.39 308v2.4M578.08 308v2.4M583.76 308v2.4M589.45 308v5.0M595.13 308v2.4M600.82 308v2.4M606.5 308v2.4M612.19 308v2.4M617.88 308v5.0M623.56 308v2.4M629.25 308v2.4M634.93 308v2.4M640.62 308v2.4M646.3 308v5.0M651.99 308v2.4M657.67 308v2.4M663.36 308v2.4M669.04 308v2.4M674.72 308v5.0M390.4 209.26h-2.4M390.4 212.33h-2.4M390.4 215.4h-5.0M390.4 218.47h-2.4M390.4 221.54h-2.4M390.4 224.62h-2.4M390.4 227.69h-2.4M390.4 230.76h-5.0M390.4 233.83h-2.4M390.4 236.9h-2.4M390.4 239.98h-2.4M390.4 243.05h-2.4M390.4 246.12h-5.0M390.4 249.19h-2.4M390.4 252.26h-2.4M390.4 255.34h-2.4M390.4 258.41h-2.4M390.4 261.48h-5.0M390.4 264.55h-2.4M390.4 267.62h-2.4M390.4 270.7h-2.4M390.4 273.77h-2.4M390.4 276.84h-5.0M390.4 279.91h-2.4M390.4 282.98h-2.4M390.4 286.06h-2.4M390.4 289.13h-2.4M390.4 292.2h-5.0M390.4 295.27h-2.4M390.4 298.34h-2.4M390.4 301.42h-2.4M390.4 304.49h-2.4M390.4 307.56h-5.0" stroke="#4d4d4d" stroke-width="0.8" fill="none"/>
<text x="389.67" y="323.2" font-size="9.6" text-anchor="middle" fill="#111" >-50</text>
<text x="418.4" y="323.2" font-size="9.6" text-anchor="middle" fill="#111" >0</text>
<text x="446.82" y="323.2" font-size="9.6" text-anchor="middle" fill="#111" >50</text>
<text x="475.25" y="323.2" font-size="9.6" text-anchor="middle" fill="#111" >100</text>
<text x="503.67" y="323.2" font-size="9.6" text-anchor="middle" fill="#111" >150</text>
<text x="532.1" y="323.2" font-size="9.6" text-anchor="middle" fill="#111" >200</text>
<text x="560.52" y="323.2" font-size="9.6" text-anchor="middle" fill="#111" >250</text>
<text x="588.95" y="323.2" font-size="9.6" text-anchor="middle" fill="#111" >300</text>
<text x="617.38" y="323.2" font-size="9.6" text-anchor="middle" fill="#111" >350</text>
<text x="645.8" y="323.2" font-size="9.6" text-anchor="middle" fill="#111" >400</text>
<text x="674.22" y="323.2" font-size="9.6" text-anchor="middle" fill="#111" >450</text>
<text x="382.8" y="218" font-size="9.6" text-anchor="end" fill="#111" >0</text>
<text x="382.8" y="234" font-size="9.6" text-anchor="end" fill="#111" >10</text>
<text x="382.8" y="249" font-size="9.6" text-anchor="end" fill="#111" >20</text>
<text x="382.8" y="265" font-size="9.6" text-anchor="end" fill="#111" >30</text>
<text x="382.8" y="280" font-size="9.6" text-anchor="end" fill="#111" >40</text>
<text x="382.8" y="295" font-size="9.6" text-anchor="end" fill="#111" >50</text>
<text x="382.8" y="311" font-size="9.6" text-anchor="end" fill="#111" >60</text>
<text x="532.6" y="339.3" font-size="9.6" text-anchor="middle" fill="#111" >Distance (km)</text>
<text transform="translate(362 261.7) rotate(-90)" font-size="9.6" text-anchor="middle" fill="#111">Depth (km)</text>
<text x="393.5" y="303.6" font-size="9.7" text-anchor="start" fill="#111" >Vp (km/s)</text>
<text x="557.8" y="226" font-size="9.6" text-anchor="middle" fill="#111" >3.80</text>
<text x="612.1" y="226" font-size="9.6" text-anchor="middle" fill="#111" >6.15</text>
<text x="626.6" y="238" font-size="9.6" text-anchor="middle" fill="#111" >Crust</text>
<text x="624.3" y="256" font-size="9.6" text-anchor="middle" fill="#111" >6.30</text>
<text x="557" y="248" font-size="9.6" text-anchor="middle" fill="#111" >7.25</text>
<text x="564.4" y="262" font-size="9.6" text-anchor="middle" fill="#111" >8.00</text>
<text x="533.1" y="267" font-size="9.6" text-anchor="middle" fill="#111" >LCB</text>
<text x="604.8" y="275" font-size="9.6" text-anchor="middle" fill="#111" >6.70</text>
<text x="568.9" y="280" font-size="9.6" text-anchor="middle" fill="#111" >8.10</text>
<text x="627.9" y="287" font-size="9.6" text-anchor="middle" fill="#111" >Moho</text>
<text x="477.6" y="227" font-size="9.6" text-anchor="middle" fill="#111" >Sediments</text>
<text x="521.7" y="234" font-size="9.6" text-anchor="middle" fill="#111" >5.40</text>
<text x="439.2" y="243" font-size="9.6" text-anchor="middle" fill="#111" >LCB</text>
<text x="487.1" y="254" font-size="9.6" text-anchor="middle" fill="#111" >8.20</text>
<text x="563.6" y="202" font-size="9.6" text-anchor="middle" fill="#111" >Coast</text>
<line x1="550.9" y1="249.6" x2="544.72" y2="255.71" stroke="#111" stroke-width="1.0"/>
<polygon points="542.3,258.1 544.3,253.87 546.55,256.14" fill="#111" />
<line x1="640" y1="274.2" x2="648.4" y2="274.2" stroke="#111" stroke-width="1.15"/>
<polygon points="652.6,274.2 647.4,275.95 647.4,272.45" fill="#111" />
<text x="654.9" y="277" font-size="9.6" text-anchor="start" fill="#111" >LC</text>
<line x1="582" y1="190" x2="582" y2="208.8" stroke="#111" stroke-width="1.6"/>
<polygon points="582,214.8 579.5,207.8 584.5,207.8" fill="#111" />
<rect x="389.7" y="382.2" width="284.2" height="100.3" fill="#e6e6e6"/>
<text x="354.5" y="357.6" font-size="9.8" fill="#111" textLength="205.5" lengthAdjust="spacingAndGlyphs">g) Stratford and Thybo 2009 (MAGNUS-REX Line 2)</text>
<text x="374" y="372.6" font-size="9.6" text-anchor="middle" fill="#111" >NE</text>
<text x="686" y="372.6" font-size="9.6" text-anchor="end" fill="#111" >SW</text>
<polygon points="414.9,382.2 416.1,388.2 419.1,402.4 422.4,414.9 427.9,429.9 434.1,443.6 442.1,461.1 576.4,461.1 581.4,451.1 586.4,441.1 591.4,427.4 596.4,414.9 601.4,403.7 608.9,388.6 611.4,382.2" fill="#fff" />
<polygon points="416.1,388.2 514,387.6 608.9,388.6 601.4,403.7 596.4,414.9 591.4,427.4 586.4,441.1 581.4,451.1 576.4,461.1 442.1,461.1 434.1,443.6 427.9,429.9 422.4,414.9 419.1,402.4 416.1,388.2" fill="#00b86a" />
<polygon points="416.1,388.2 514,387.6 608.9,388.6 601.4,403.7 596.4,414.9 591.4,427.4 586.4,441.1 583.5,446.9 544,446.9 529,448.6 514,450.4 502.8,449.9 482.8,445.6 456.6,439.9 434.1,440.4 427.9,429.9 422.4,414.9 419.1,402.4" fill="#20a6e0" />
<polygon points="416.1,388.2 514,387.6 608.9,388.6 601.4,403.7 596.4,414.9 593.2,423.1 589,423.1 425.2,423.1 422.4,414.9 419.1,402.4" fill="#2189c4" />
<polygon points="416.1,388.2 514,387.6 608.9,388.6 601.1,404.4 419.6,404.4" fill="#00a8c2" />
<polyline points="416.1,388.2 514,387.6 608.9,388.6" fill="none" stroke="#1a1a1a" stroke-width="0.8" />
<polyline points="421.1,395.7 514,393.7 546.5,392.4 599,392.9 602.7,392.9" fill="none" stroke="#1a1a1a" stroke-width="1.5" />
<polyline points="420.4,404.4 431.6,404.4" fill="none" stroke="#1a1a1a" stroke-width="1.0" stroke-dasharray="3.6 2.4" />
<polyline points="432.9,404.4 585.2,404.2" fill="none" stroke="#1a1a1a" stroke-width="1.5" />
<polyline points="585.2,404.2 600.2,404.4" fill="none" stroke="#1a1a1a" stroke-width="1.0" stroke-dasharray="3.6 2.4" />
<polyline points="500.3,409.4 514,412.9 525.2,416.1 544,413.7 596.4,412.4" fill="none" stroke="#1a1a1a" stroke-width="1.5" />
<polyline points="426.6,423.1 469,423.1" fill="none" stroke="#1a1a1a" stroke-width="1.0" stroke-dasharray="3.6 2.4" />
<polyline points="470.3,423.1 535.2,423.1" fill="none" stroke="#1a1a1a" stroke-width="1.5" />
<polyline points="535.2,423.1 591.4,423.1" fill="none" stroke="#1a1a1a" stroke-width="1.0" stroke-dasharray="3.6 2.4" />
<polyline points="434.1,435.4 460.3,435.4 482.8,439.9 505.2,444.9 514,444.9 529,443.1 551.5,441.1 586.4,441.1" fill="none" stroke="#1a1a1a" stroke-width="1.0" stroke-dasharray="3.6 2.4" />
<polyline points="435.4,440.4 442,440.4" fill="none" stroke="#1a1a1a" stroke-width="1.0" stroke-dasharray="3.6 2.4" />
<polyline points="444,440 455.5,439.9" fill="none" stroke="#1a1a1a" stroke-width="1.5" />
<polyline points="468,441.9 481.6,445.4" fill="none" stroke="#1a1a1a" stroke-width="1.5" />
<polyline points="555,447.2 582,446.9" fill="none" stroke="#1a1a1a" stroke-width="1.0" stroke-dasharray="3.6 2.4" />
<rect x="389.7" y="382.2" width="284.2" height="100.3" fill="none" stroke="#4d4d4d" stroke-width="0.9"/>
<path d="M389.7 482.5v5.0M395.39 482.5v2.4M401.08 482.5v2.4M406.77 482.5v2.4M412.46 482.5v2.4M418.15 482.5v5.0M423.84 482.5v2.4M429.53 482.5v2.4M435.22 482.5v2.4M440.91 482.5v2.4M446.6 482.5v5.0M452.29 482.5v2.4M457.98 482.5v2.4M463.67 482.5v2.4M469.36 482.5v2.4M475.05 482.5v5.0M480.74 482.5v2.4M486.43 482.5v2.4M492.12 482.5v2.4M497.81 482.5v2.4M503.5 482.5v5.0M509.19 482.5v2.4M514.88 482.5v2.4M520.57 482.5v2.4M526.26 482.5v2.4M531.95 482.5v5.0M537.64 482.5v2.4M543.33 482.5v2.4M549.02 482.5v2.4M554.71 482.5v2.4M560.4 482.5v5.0M566.09 482.5v2.4M571.78 482.5v2.4M577.47 482.5v2.4M583.16 482.5v2.4M588.85 482.5v5.0M594.54 482.5v2.4M600.23 482.5v2.4M605.92 482.5v2.4M611.61 482.5v2.4M617.3 482.5v5.0M622.99 482.5v2.4M628.68 482.5v2.4M634.37 482.5v2.4M640.06 482.5v2.4M645.75 482.5v5.0M651.44 482.5v2.4M657.13 482.5v2.4M662.82 482.5v2.4M668.51 482.5v2.4M389.7 382.99h-2.4M389.7 386.09h-2.4M389.7 389.2h-5.0M389.7 392.31h-2.4M389.7 395.41h-2.4M389.7 398.52h-2.4M389.7 401.62h-2.4M389.7 404.73h-5.0M389.7 407.84h-2.4M389.7 410.94h-2.4M389.7 414.05h-2.4M389.7 417.15h-2.4M389.7 420.26h-5.0M389.7 423.37h-2.4M389.7 426.47h-2.4M389.7 429.58h-2.4M389.7 432.68h-2.4M389.7 435.79h-5.0M389.7 438.9h-2.4M389.7 442h-2.4M389.7 445.11h-2.4M389.7 448.21h-2.4M389.7 451.32h-5.0M389.7 454.43h-2.4M389.7 457.53h-2.4M389.7 460.64h-2.4M389.7 463.74h-2.4M389.7 466.85h-5.0M389.7 469.96h-2.4M389.7 473.06h-2.4M389.7 476.17h-2.4M389.7 479.27h-2.4M389.7 482.38h-5.0" stroke="#4d4d4d" stroke-width="0.8" fill="none"/>
<text x="388.9" y="497.7" font-size="9.6" text-anchor="middle" fill="#111" >-50</text>
<text x="417.65" y="497.7" font-size="9.6" text-anchor="middle" fill="#111" >0</text>
<text x="446.1" y="497.7" font-size="9.6" text-anchor="middle" fill="#111" >50</text>
<text x="474.55" y="497.7" font-size="9.6" text-anchor="middle" fill="#111" >100</text>
<text x="503" y="497.7" font-size="9.6" text-anchor="middle" fill="#111" >150</text>
<text x="531.45" y="497.7" font-size="9.6" text-anchor="middle" fill="#111" >200</text>
<text x="559.9" y="497.7" font-size="9.6" text-anchor="middle" fill="#111" >250</text>
<text x="588.35" y="497.7" font-size="9.6" text-anchor="middle" fill="#111" >300</text>
<text x="616.8" y="497.7" font-size="9.6" text-anchor="middle" fill="#111" >350</text>
<text x="645.25" y="497.7" font-size="9.6" text-anchor="middle" fill="#111" >400</text>
<text x="673.7" y="497.7" font-size="9.6" text-anchor="middle" fill="#111" >450</text>
<text x="382.1" y="392" font-size="9.6" text-anchor="end" fill="#111" >0</text>
<text x="382.1" y="408" font-size="9.6" text-anchor="end" fill="#111" >10</text>
<text x="382.1" y="423" font-size="9.6" text-anchor="end" fill="#111" >20</text>
<text x="382.1" y="439" font-size="9.6" text-anchor="end" fill="#111" >30</text>
<text x="382.1" y="454" font-size="9.6" text-anchor="end" fill="#111" >40</text>
<text x="382.1" y="470" font-size="9.6" text-anchor="end" fill="#111" >50</text>
<text x="382.1" y="485" font-size="9.6" text-anchor="end" fill="#111" >60</text>
<text x="531.8" y="513.8" font-size="9.6" text-anchor="middle" fill="#111" >Distance (km)</text>
<text transform="translate(361.3 435.85) rotate(-90)" font-size="9.6" text-anchor="middle" fill="#111">Depth (km)</text>
<text x="394.5" y="477.6" font-size="9.7" text-anchor="start" fill="#111" >Vp (km/s)</text>
<text x="569.9" y="394" font-size="9.6" text-anchor="middle" fill="#111" >5.8</text>
<text x="544.5" y="412" font-size="9.6" text-anchor="middle" fill="#111" >6.3</text>
<text x="569.5" y="421" font-size="9.6" text-anchor="middle" fill="#111" >6.4</text>
<text x="538.6" y="441" font-size="9.6" text-anchor="middle" fill="#111" >6.8</text>
<text x="539.2" y="458" font-size="9.6" text-anchor="middle" fill="#111" >8.05</text>
<text x="457.1" y="395" font-size="9.6" text-anchor="middle" fill="#111" >6.0</text>
<text x="507.7" y="394" font-size="9.6" text-anchor="middle" fill="#111" >5.9</text>
<text x="515.5" y="403" font-size="9.6" text-anchor="middle" fill="#111" >6.2</text>
<text x="443.4" y="413" font-size="9.6" text-anchor="middle" fill="#111" >6.3</text>
<text x="470.3" y="420" font-size="9.6" text-anchor="middle" fill="#111" >6.4</text>
<text x="499.6" y="432" font-size="9.6" text-anchor="middle" fill="#111" >6.6</text>
<text x="512" y="450" font-size="9.6" text-anchor="middle" fill="#111" >7.1</text>
<line x1="598.9" y1="398.7" x2="607" y2="398.7" stroke="#111" stroke-width="1.15"/>
<polygon points="611.2,398.7 606,400.45 606,396.95" fill="#111" />
<text x="613.4" y="401" font-size="9.6" text-anchor="start" fill="#111" >UC</text>
<line x1="591.4" y1="417.4" x2="599.4" y2="417.4" stroke="#111" stroke-width="1.15"/>
<polygon points="603.6,417.4 598.4,419.15 598.4,415.65" fill="#111" />
<text x="605.9" y="420" font-size="9.6" text-anchor="start" fill="#111" >MC</text>
<line x1="585.2" y1="434.4" x2="593.7" y2="434.4" stroke="#111" stroke-width="1.15"/>
<polygon points="597.9,434.4 592.7,436.15 592.7,432.65" fill="#111" />
<text x="600.9" y="438" font-size="9.6" text-anchor="start" fill="#111" >LC</text>
<line x1="581.4" y1="446.9" x2="589.9" y2="446.9" stroke="#111" stroke-width="1.15"/>
<polygon points="594.1,446.9 588.9,448.65 588.9,445.15" fill="#111" />
<text x="596.4" y="450" font-size="9.6" text-anchor="start" fill="#111" >Moho</text>
<text x="653.9" y="480" font-size="9.6" text-anchor="middle" fill="#111" >Line 1</text>
<text x="479.7" y="374" font-size="9.6" text-anchor="middle" fill="#111" >Line 2</text>
<line x1="496.5" y1="363" x2="496.5" y2="381.2" stroke="#111" stroke-width="1.6"/>
<polygon points="496.5,387.2 494,380.2 499,380.2" fill="#111" />
<rect x="390.4" y="557.5" width="285" height="100.1" fill="#e6e6e6"/>
<text x="354.5" y="533.6" font-size="9.8" fill="#111" textLength="205.5" lengthAdjust="spacingAndGlyphs">h) Stratford and Thybo 2009 (MAGNUS-REX Line 3)</text>
<text x="371.5" y="549" font-size="9.6" text-anchor="middle" fill="#111" >W</text>
<text x="687.5" y="549" font-size="9.6" text-anchor="end" fill="#111" >E</text>
<polygon points="409.9,557.5 409.9,565 411.6,577.4 415.4,597.4 417.9,611.1 421.6,622.6 459.1,637.4 620.2,637.4 645.2,621.1 650.2,615 657.7,597.4 661.5,585 665.2,565 670.2,557.5" fill="#fff" />
<polygon points="409.9,565 440,565 451,564.3 470.3,564 483,564.6 514,565 540,564.5 560,565 665.2,565 665.2,565 661.5,585 657.7,597.4 650.2,615 645.2,621.1 620.2,637.4 459.1,637.4 421.6,622.6 417.9,611.1 415.4,597.4 411.6,577.4" fill="#00b86a" />
<polygon points="409.9,565 440,565 451,564.3 470.3,564 483,564.6 514,565 540,564.5 560,565 665.2,565 665.2,565 661.5,585 657.7,597.4 650.2,615 645.2,621.1 645.2,621.1 590.2,620.6 580.2,618.1 531.5,618.6 514,621.9 499.1,623.6 434,623.6 421.6,622.6 417.9,611.1 415.4,597.4 411.6,577.4" fill="#20a6e0" />
<polygon points="409.9,565 440,565 451,564.3 470.3,564 483,564.6 514,565 540,564.5 560,565 665.2,565 661.5,585 659,593.2 636.5,593.7 514,593.7 414.6,593.2 411.6,577.4" fill="#2189c4" />
<polygon points="409.9,565 440,565 451,564.3 470.3,564 483,564.6 514,565 540,564.5 560,565 665.2,565 662.7,578.2 652.7,578.2 631.5,578.7 601.5,576.9 581.5,574.9 564,574.4 544,578.7 514,578.7 492.8,579.4 467.8,581.2 412.3,581.2 411.6,577.4" fill="#00a8c2" />
<polyline points="409.9,565 440,565 451,564.3 470.3,564 483,564.6 514,565 540,564.5 560,565 665.2,565" fill="none" stroke="#1a1a1a" stroke-width="0.8" />
<polyline points="411.6,572.9 514,572.5 524,572 534,568.7 546.5,568.2 661.5,569.5" fill="none" stroke="#1a1a1a" stroke-width="1.5" />
<polyline points="414.9,581.2 427.9,581.2" fill="none" stroke="#1a1a1a" stroke-width="1.0" stroke-dasharray="3.6 2.4" />
<polyline points="429.1,581.2 467.8,581.2 492.8,579.4 514,578.7 544,578.7 564,574.4 581.5,574.9 601.5,576.9 631.5,578.7 652.7,578.2" fill="none" stroke="#1a1a1a" stroke-width="1.5" />
<polyline points="652.7,578.2 662,578.2" fill="none" stroke="#1a1a1a" stroke-width="1.0" stroke-dasharray="3.6 2.4" />
<polyline points="414.1,593.2 514,593.7 636.5,593.7" fill="none" stroke="#1a1a1a" stroke-width="1.5" />
<polyline points="636.5,593.7 657.7,593.2" fill="none" stroke="#1a1a1a" stroke-width="1.0" stroke-dasharray="3.6 2.4" />
<polyline points="422.9,616.6 514,616.6 519,614.9 529,607.4 539,602.4 571.5,602.4 581.5,608.1 589,609.4 639,609.4 652.7,608.6" fill="none" stroke="#1a1a1a" stroke-width="1.0" stroke-dasharray="3.6 2.4" />
<polyline points="422.5,622.9 434,623.5" fill="none" stroke="#1a1a1a" stroke-width="1.5" stroke-dasharray="5 2" />
<polyline points="437,623.6 462.5,623.6" fill="none" stroke="#1a1a1a" stroke-width="1.5" />
<polyline points="474,623.6 499.1,623.6 514,621.9 531.5,618.6 580.2,618.1 590.2,620.6" fill="none" stroke="#1a1a1a" stroke-width="1.5" />
<polyline points="592.5,621.1 645.2,621.1" fill="none" stroke="#1a1a1a" stroke-width="1.5" stroke-dasharray="20 2.5" />
<polyline points="545.7,578.7 531,617.9" fill="none" stroke="#1a1a1a" stroke-width="1.2" stroke-dasharray="1.2 1.7" />
<polyline points="580.7,575 580.7,617.9" fill="none" stroke="#1a1a1a" stroke-width="1.2" stroke-dasharray="1.2 1.7" />
<polyline points="546.5,561 546.5,539.2 580.7,539.2 580.7,561" fill="none" stroke="#1a1a1a" stroke-width="0.9" />
<polygon points="546.5,564.2 545.2,560.4 547.8,560.4" fill="#111" />
<polygon points="580.7,564.2 579.4,560.4 582,560.4" fill="#111" />
<rect x="390.4" y="557.5" width="285" height="100.1" fill="none" stroke="#4d4d4d" stroke-width="0.9"/>
<path d="M390.45 657.6v5.0M396.14 657.6v2.4M401.83 657.6v2.4M407.52 657.6v2.4M413.21 657.6v2.4M418.9 657.6v5.0M424.59 657.6v2.4M430.28 657.6v2.4M435.97 657.6v2.4M441.66 657.6v2.4M447.35 657.6v5.0M453.04 657.6v2.4M458.73 657.6v2.4M464.42 657.6v2.4M470.11 657.6v2.4M475.8 657.6v5.0M481.49 657.6v2.4M487.18 657.6v2.4M492.87 657.6v2.4M498.56 657.6v2.4M504.25 657.6v5.0M509.94 657.6v2.4M515.63 657.6v2.4M521.32 657.6v2.4M527.01 657.6v2.4M532.7 657.6v5.0M538.39 657.6v2.4M544.08 657.6v2.4M549.77 657.6v2.4M555.46 657.6v2.4M561.15 657.6v5.0M566.84 657.6v2.4M572.53 657.6v2.4M578.22 657.6v2.4M583.91 657.6v2.4M589.6 657.6v5.0M595.29 657.6v2.4M600.98 657.6v2.4M606.67 657.6v2.4M612.36 657.6v2.4M618.05 657.6v5.0M623.74 657.6v2.4M629.43 657.6v2.4M635.12 657.6v2.4M640.81 657.6v2.4M646.5 657.6v5.0M652.19 657.6v2.4M657.88 657.6v2.4M663.57 657.6v2.4M669.26 657.6v2.4M674.95 657.6v5.0M390.4 558.83h-2.4M390.4 561.92h-2.4M390.4 565h-5.0M390.4 568.08h-2.4M390.4 571.17h-2.4M390.4 574.25h-2.4M390.4 577.34h-2.4M390.4 580.42h-5.0M390.4 583.5h-2.4M390.4 586.59h-2.4M390.4 589.67h-2.4M390.4 592.76h-2.4M390.4 595.84h-5.0M390.4 598.92h-2.4M390.4 602.01h-2.4M390.4 605.09h-2.4M390.4 608.18h-2.4M390.4 611.26h-5.0M390.4 614.34h-2.4M390.4 617.43h-2.4M390.4 620.51h-2.4M390.4 623.6h-2.4M390.4 626.68h-5.0M390.4 629.76h-2.4M390.4 632.85h-2.4M390.4 635.93h-2.4M390.4 639.02h-2.4M390.4 642.1h-5.0M390.4 645.18h-2.4M390.4 648.27h-2.4M390.4 651.35h-2.4M390.4 654.44h-2.4M390.4 657.52h-5.0" stroke="#4d4d4d" stroke-width="0.8" fill="none"/>
<text x="389.65" y="672.8" font-size="9.6" text-anchor="middle" fill="#111" >-50</text>
<text x="418.4" y="672.8" font-size="9.6" text-anchor="middle" fill="#111" >0</text>
<text x="446.85" y="672.8" font-size="9.6" text-anchor="middle" fill="#111" >50</text>
<text x="475.3" y="672.8" font-size="9.6" text-anchor="middle" fill="#111" >100</text>
<text x="503.75" y="672.8" font-size="9.6" text-anchor="middle" fill="#111" >150</text>
<text x="532.2" y="672.8" font-size="9.6" text-anchor="middle" fill="#111" >200</text>
<text x="560.65" y="672.8" font-size="9.6" text-anchor="middle" fill="#111" >250</text>
<text x="589.1" y="672.8" font-size="9.6" text-anchor="middle" fill="#111" >300</text>
<text x="617.55" y="672.8" font-size="9.6" text-anchor="middle" fill="#111" >350</text>
<text x="646" y="672.8" font-size="9.6" text-anchor="middle" fill="#111" >400</text>
<text x="674.45" y="672.8" font-size="9.6" text-anchor="middle" fill="#111" >450</text>
<text x="382.8" y="568" font-size="9.6" text-anchor="end" fill="#111" >0</text>
<text x="382.8" y="583" font-size="9.6" text-anchor="end" fill="#111" >10</text>
<text x="382.8" y="599" font-size="9.6" text-anchor="end" fill="#111" >20</text>
<text x="382.8" y="614" font-size="9.6" text-anchor="end" fill="#111" >30</text>
<text x="382.8" y="630" font-size="9.6" text-anchor="end" fill="#111" >40</text>
<text x="382.8" y="645" font-size="9.6" text-anchor="end" fill="#111" >50</text>
<text x="382.8" y="661" font-size="9.6" text-anchor="end" fill="#111" >60</text>
<text x="532.9" y="688.9" font-size="9.6" text-anchor="middle" fill="#111" >Distance (km)</text>
<text transform="translate(362 611.3) rotate(-90)" font-size="9.6" text-anchor="middle" fill="#111">Depth (km)</text>
<text x="393.5" y="653.4" font-size="9.7" text-anchor="start" fill="#111" >Vp (km/s)</text>
<text x="555.5" y="569" font-size="9.6" text-anchor="middle" fill="#111" >5.8</text>
<text x="533.3" y="577" font-size="9.6" text-anchor="middle" fill="#111" >6.2</text>
<text x="562.7" y="587" font-size="9.6" text-anchor="middle" fill="#111" >6.6</text>
<text x="646.8" y="587" font-size="9.6" text-anchor="middle" fill="#111" >6.3</text>
<text x="613.3" y="592" font-size="9.6" text-anchor="middle" fill="#111" >6.4</text>
<text x="621.6" y="603" font-size="9.6" text-anchor="middle" fill="#111" >6.6</text>
<text x="644.6" y="607" font-size="9.6" text-anchor="middle" fill="#111" >6.8</text>
<text x="612.7" y="619" font-size="9.6" text-anchor="middle" fill="#111" >7.1</text>
<text x="555.6" y="630" font-size="9.6" text-anchor="middle" fill="#111" >8.05</text>
<text x="458.6" y="572" font-size="9.6" text-anchor="middle" fill="#111" >6.0</text>
<text x="465.4" y="590" font-size="9.6" text-anchor="middle" fill="#111" >6.3</text>
<text x="501.1" y="592" font-size="9.6" text-anchor="middle" fill="#111" >6.4</text>
<text x="446.6" y="603" font-size="9.6" text-anchor="middle" fill="#111" >6.6</text>
<text x="470.9" y="615" font-size="9.6" text-anchor="middle" fill="#111" >6.8</text>
<text x="400.5" y="586" font-size="9.6" text-anchor="middle" fill="#111" >UC</text>
<text x="420.7" y="592" font-size="9.6" text-anchor="middle" fill="#111" >MC</text>
<text x="425.3" y="611" font-size="9.6" text-anchor="middle" fill="#111" >LC</text>
<text x="654.8" y="640" font-size="9.6" text-anchor="middle" fill="#111" >Moho</text>
<text x="655.5" y="656" font-size="9.6" text-anchor="middle" fill="#111" >Line 3</text>
<line x1="412.9" y1="568.2" x2="407.33" y2="572.75" stroke="#111" stroke-width="1.0"/>
<polygon points="404.7,574.9 407.09,570.88 409.12,573.36" fill="#111" />
<line x1="645.2" y1="621.2" x2="649.52" y2="627.24" stroke="#111" stroke-width="1.0"/>
<polygon points="651.5,630 647.64,627.35 650.24,625.49" fill="#111" />
<text x="516.5" y="548" font-size="9.6" text-anchor="middle" fill="#111" >Oslo Graben</text>
<text x="-0.8" y="709.5" font-size="9.8" fill="#111" >i)</text>
<text x="11.6" y="709.5" font-size="9.8" fill="#111" textLength="196" lengthAdjust="spacingAndGlyphs">Topography versus Moho depth plot in Scandes</text>
<rect x="85" y="731.3" width="132.6" height="45.4" fill="#b2ecf9"/>
<rect x="321.3" y="731.3" width="135.4" height="40.4" fill="#b2ecf9"/>
<rect x="98" y="790" width="60.5" height="29.4" fill="#fcfac4"/>
<rect x="507" y="778" width="111.9" height="55.8" fill="#fcfac4"/>
<path d="M36.5 740.61H625M36.5 761.43H625M36.5 782.25H625M36.5 803.07H625M36.5 823.89H625M110.06 730.2V834.3M183.62 730.2V834.3M257.18 730.2V834.3M330.74 730.2V834.3M404.3 730.2V834.3M477.86 730.2V834.3M551.42 730.2V834.3" stroke="#6a6a6a" stroke-width="0.7" stroke-dasharray="4 3.2" fill="none"/>
<rect x="36.5" y="730.2" width="588.5" height="104.1" fill="none" stroke="#333" stroke-width="1.1"/>
<text x="29" y="744.01" font-size="9.6" text-anchor="end" fill="#111" >46</text>
<text x="29" y="764.83" font-size="9.6" text-anchor="end" fill="#111" >44</text>
<text x="29" y="785.65" font-size="9.6" text-anchor="end" fill="#111" >42</text>
<text x="29" y="806.47" font-size="9.6" text-anchor="end" fill="#111" >40</text>
<text x="29" y="827.29" font-size="9.6" text-anchor="end" fill="#111" >38</text>
<text x="36.5" y="848.9" font-size="9.6" text-anchor="middle" fill="#111" >0</text>
<text x="110.06" y="848.9" font-size="9.6" text-anchor="middle" fill="#111" >0.2</text>
<text x="183.62" y="848.9" font-size="9.6" text-anchor="middle" fill="#111" >0.4</text>
<text x="257.18" y="848.9" font-size="9.6" text-anchor="middle" fill="#111" >0.6</text>
<text x="330.74" y="848.9" font-size="9.6" text-anchor="middle" fill="#111" >0.8</text>
<text x="404.3" y="848.9" font-size="9.6" text-anchor="middle" fill="#111" >1.0</text>
<text x="477.86" y="848.9" font-size="9.6" text-anchor="middle" fill="#111" >1.2</text>
<text x="551.42" y="848.9" font-size="9.6" text-anchor="middle" fill="#111" >1.4</text>
<text x="624.98" y="848.9" font-size="9.6" text-anchor="middle" fill="#111" >1.6</text>
<path d="M36.5 740.61h-4M36.5 761.43h-4M36.5 782.25h-4M36.5 803.07h-4M36.5 823.89h-4M36.5 834.3v4M110.06 834.3v4M183.62 834.3v4M257.18 834.3v4M330.74 834.3v4M404.3 834.3v4M477.86 834.3v4M551.42 834.3v4M624.98 834.3v4" stroke="#4d4d4d" stroke-width="0.9" fill="none"/>
<text x="340.8" y="865.6" font-size="9.6" text-anchor="middle" fill="#111" >Topography (km)</text>
<text transform="translate(6.8 784) rotate(-90)" font-size="9.6" text-anchor="middle" fill="#111">Moho depth (km)</text>
<circle cx="117.42" cy="740.61" r="5.0" fill="#a8fdf8" stroke="#222" stroke-width="0.8"/>
<circle cx="146.84" cy="761.43" r="5.0" fill="#9b00c8" stroke="#222" stroke-width="0.8"/>
<circle cx="157.87" cy="761.43" r="5.0" fill="#2e9b68" stroke="#222" stroke-width="0.8"/>
<circle cx="202.01" cy="761.43" r="5.0" fill="#1e8fff" stroke="#222" stroke-width="0.8"/>
<circle cx="128.45" cy="803.07" r="5.0" fill="#a50000" stroke="#222" stroke-width="0.8"/>
<polygon points="257.18,745.87 262.48,755.07 251.88,755.07" fill="#2e9b68" stroke="#222" stroke-width="0.8" stroke-linejoin="miter"/>
<polygon points="349.13,735.46 354.43,744.66 343.83,744.66" fill="#a8fdf8" stroke="#222" stroke-width="0.8" stroke-linejoin="miter"/>
<polygon points="404.3,735.46 409.6,744.66 399,744.66" fill="#9b00c8" stroke="#222" stroke-width="0.8" stroke-linejoin="miter"/>
<polygon points="422.69,756.28 427.99,765.48 417.39,765.48" fill="#1e8fff" stroke="#222" stroke-width="0.8" stroke-linejoin="miter"/>
<polygon points="551.42,787.51 556.72,796.71 546.12,796.71" fill="#ff9a35" stroke="#222" stroke-width="0.8" stroke-linejoin="miter"/>
<polygon points="569.81,818.74 575.11,827.94 564.51,827.94" fill="#ffff33" stroke="#222" stroke-width="0.8" stroke-linejoin="miter"/>
<polygon points="588.2,818.74 593.5,827.94 582.9,827.94" fill="#a50000" stroke="#222" stroke-width="0.8" stroke-linejoin="miter"/>
<text x="117.4" y="754" font-size="9.6" text-anchor="middle" fill="#111" >c</text>
<text x="142" y="774" font-size="9.6" text-anchor="middle" fill="#111" >b</text>
<text x="161.2" y="774" font-size="9.6" text-anchor="middle" fill="#111" >d</text>
<text x="201.5" y="774" font-size="9.6" text-anchor="middle" fill="#111" >a</text>
<text x="127.6" y="817" font-size="9.6" text-anchor="middle" fill="#111" >h</text>
<text x="152.8" y="788" font-size="9.6" text-anchor="middle" fill="#111" >Svecofennia</text>
<text x="263.8" y="747" font-size="9.6" text-anchor="middle" fill="#111" >d</text>
<text x="356" y="740" font-size="9.6" text-anchor="middle" fill="#111" >c</text>
<text x="410.7" y="740" font-size="9.6" text-anchor="middle" fill="#111" >b</text>
<text x="428.2" y="758" font-size="9.6" text-anchor="middle" fill="#111" >a</text>
<text x="543.3" y="790" font-size="9.6" text-anchor="middle" fill="#111" >g</text>
<text x="564" y="820" font-size="9.6" text-anchor="middle" fill="#111" >e</text>
<text x="593.3" y="819" font-size="9.6" text-anchor="middle" fill="#111" >h</text>
<text x="256.2" y="770" font-size="9.6" text-anchor="middle" fill="#2e8b57" >Central</text>
<text x="256.2" y="781" font-size="9.6" text-anchor="middle" fill="#2e8b57" >Scandes</text>
<text x="369.4" y="782" font-size="9.6" text-anchor="start" fill="#1a1aff" >Northern</text>
<text x="369.4" y="793" font-size="9.6" text-anchor="start" fill="#1a1aff" >Scandes</text>
<text x="563.2" y="758" font-size="9.6" text-anchor="middle" fill="#a01818" >Southern</text>
<text x="563.2" y="769" font-size="9.6" text-anchor="middle" fill="#a01818" >Scandes</text>
<rect x="290.4" y="802.5" width="80.6" height="28" fill="#fff" stroke="#111" stroke-width="1"/>
<polygon points="299.5,803.8 304.4,812.4 294.6,812.4" fill="#000"/>
<circle cx="299.5" cy="825" r="4.7" fill="#000"/>
<text x="308" y="814" font-size="9.6" text-anchor="start" fill="#111" >Caledonian</text>
<text x="307.4" y="827" font-size="9.6" text-anchor="start" fill="#111" >Proterozoic</text>
<rect x="632" y="730.2" width="43.2" height="104.1" fill="#fff" stroke="#4d4d4d" stroke-width="1"/>
<text x="634.6" y="741" font-size="9.6" text-anchor="start" fill="#111" >Profiles:</text>
<polygon points="640.9,746.15 646.2,755.35 635.6,755.35" fill="#1e8fff" stroke="#222" stroke-width="0.8" stroke-linejoin="miter"/>
<text x="649.8" y="755" font-size="9.6" text-anchor="start" fill="#111" >a</text>
<polygon points="640.9,758.91 646.2,768.11 635.6,768.11" fill="#9b00c8" stroke="#222" stroke-width="0.8" stroke-linejoin="miter"/>
<text x="649.8" y="767" font-size="9.6" text-anchor="start" fill="#111" >b</text>
<polygon points="640.9,771.67 646.2,780.87 635.6,780.87" fill="#a8fdf8" stroke="#222" stroke-width="0.8" stroke-linejoin="miter"/>
<text x="649.8" y="780" font-size="9.6" text-anchor="start" fill="#111" >c</text>
<polygon points="640.9,784.43 646.2,793.63 635.6,793.63" fill="#2e9b68" stroke="#222" stroke-width="0.8" stroke-linejoin="miter"/>
<text x="649.8" y="793" font-size="9.6" text-anchor="start" fill="#111" >d</text>
<polygon points="640.9,797.19 646.2,806.39 635.6,806.39" fill="#ffff33" stroke="#222" stroke-width="0.8" stroke-linejoin="miter"/>
<text x="649.8" y="806" font-size="9.6" text-anchor="start" fill="#111" >e</text>
<polygon points="640.9,809.95 646.2,819.15 635.6,819.15" fill="#ff9a35" stroke="#222" stroke-width="0.8" stroke-linejoin="miter"/>
<text x="649.8" y="818" font-size="9.6" text-anchor="start" fill="#111" >g</text>
<polygon points="640.9,822.71 646.2,831.91 635.6,831.91" fill="#a50000" stroke="#222" stroke-width="0.8" stroke-linejoin="miter"/>
<text x="649.8" y="831" font-size="9.6" text-anchor="start" fill="#111" >h</text>
</svg>
</body></html>
